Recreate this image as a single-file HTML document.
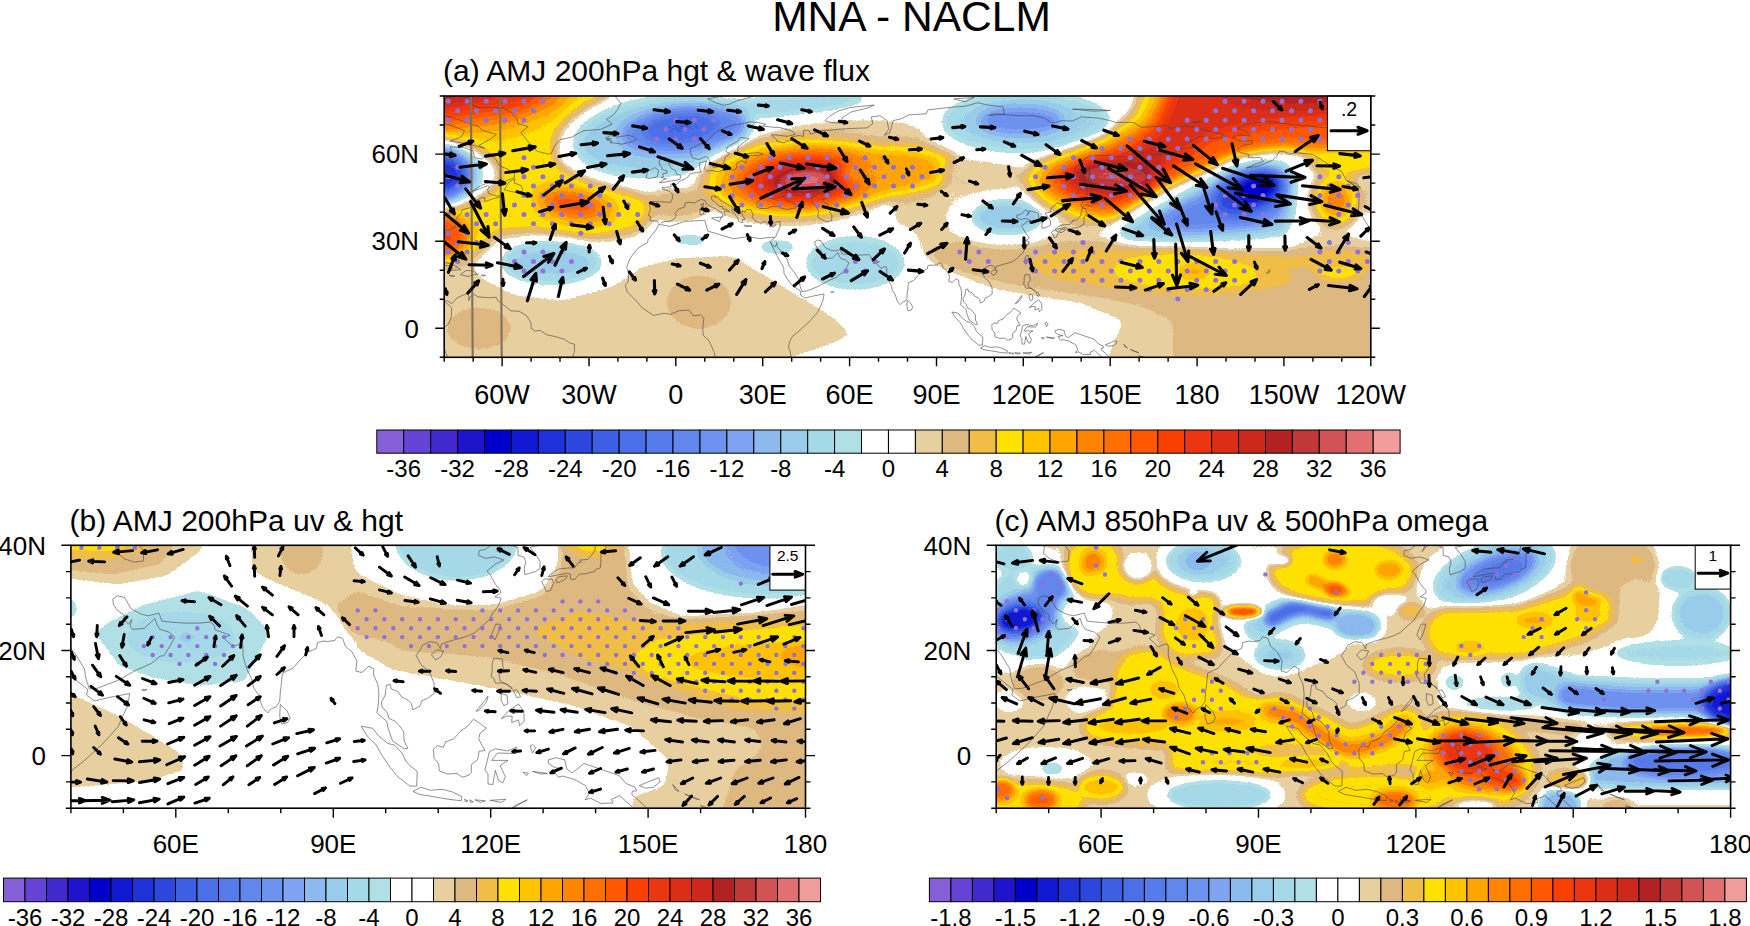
<!DOCTYPE html>
<html><head><meta charset="utf-8"><title>MNA - NACLM</title>
<style>
html,body{margin:0;padding:0;background:#fff}
svg{display:block}
text{font-family:"Liberation Sans", Arial, Helvetica, sans-serif;fill:#000}
.as{stroke:#000;fill:none;stroke-linecap:round;stroke-linejoin:round}
.ah{fill:#000;stroke:#000;stroke-width:1;stroke-linejoin:round}
</style></head><body>
<svg width="1750" height="926" viewBox="0 0 1750 926">
<defs>
<clipPath id="clipa"><rect x="444.2" y="96" width="926.6" height="261.3"/></clipPath>
<clipPath id="clipb"><rect x="70.9" y="545.3" width="734.6" height="262.9"/></clipPath>
<clipPath id="clipc"><rect x="996.2" y="545.3" width="734.4" height="262.9"/></clipPath>
<filter id="cmap" filterUnits="userSpaceOnUse" x="0" y="0" width="1750" height="926" color-interpolation-filters="sRGB"><feComponentTransfer><feFuncR type="discrete" tableValues="0.5216 0.3922 0.2588 0.1255 0.0000 0.0627 0.1216 0.1765 0.2392 0.2902 0.3373 0.3804 0.4314 0.4902 0.5490 0.6000 0.6471 0.6902 1.0000 1.0000 0.9098 0.8706 0.9412 1.0000 1.0000 1.0000 1.0000 1.0000 1.0000 0.9804 0.9255 0.8627 0.8039 0.6980 0.7569 0.8235 0.8863 0.9490"/><feFuncG type="discrete" tableValues="0.3765 0.2627 0.1608 0.0745 0.0000 0.0980 0.1961 0.2784 0.3725 0.4353 0.4824 0.5255 0.5725 0.6392 0.7255 0.8000 0.8510 0.8784 1.0000 1.0000 0.8118 0.7216 0.7451 0.8824 0.7647 0.6471 0.5216 0.4314 0.3451 0.2510 0.2118 0.1804 0.1569 0.1333 0.2157 0.3255 0.4392 0.6118"/><feFuncB type="discrete" tableValues="0.8471 0.8392 0.8039 0.8000 0.8039 0.8275 0.8510 0.8706 0.8902 0.9059 0.9176 0.9255 0.9373 0.9451 0.9333 0.9176 0.9059 0.9020 1.0000 1.0000 0.6275 0.5059 0.2706 0.0000 0.0000 0.0000 0.0000 0.0000 0.0000 0.0000 0.0627 0.0863 0.1098 0.1333 0.2275 0.3333 0.4471 0.6196"/></feComponentTransfer></filter>
<filter id="b2" x="-2" y="-2" width="5" height="5" color-interpolation-filters="sRGB"><feGaussianBlur stdDeviation="2"/></filter>
<filter id="b2_5" x="-2" y="-2" width="5" height="5" color-interpolation-filters="sRGB"><feGaussianBlur stdDeviation="2.5"/></filter>
<filter id="b3" x="-2" y="-2" width="5" height="5" color-interpolation-filters="sRGB"><feGaussianBlur stdDeviation="3"/></filter>
<filter id="b3_5" x="-2" y="-2" width="5" height="5" color-interpolation-filters="sRGB"><feGaussianBlur stdDeviation="3.5"/></filter>
<filter id="b4" x="-2" y="-2" width="5" height="5" color-interpolation-filters="sRGB"><feGaussianBlur stdDeviation="4"/></filter>
<filter id="b5" x="-2" y="-2" width="5" height="5" color-interpolation-filters="sRGB"><feGaussianBlur stdDeviation="5"/></filter>
<filter id="b6" x="-2" y="-2" width="5" height="5" color-interpolation-filters="sRGB"><feGaussianBlur stdDeviation="6"/></filter>
<filter id="b7" x="-2" y="-2" width="5" height="5" color-interpolation-filters="sRGB"><feGaussianBlur stdDeviation="7"/></filter>
<filter id="b8" x="-2" y="-2" width="5" height="5" color-interpolation-filters="sRGB"><feGaussianBlur stdDeviation="8"/></filter>
<filter id="b9" x="-2" y="-2" width="5" height="5" color-interpolation-filters="sRGB"><feGaussianBlur stdDeviation="9"/></filter>
<filter id="u3" filterUnits="userSpaceOnUse" x="0" y="0" width="1750" height="926" color-interpolation-filters="sRGB"><feGaussianBlur stdDeviation="3"/></filter>
<filter id="u3_5" filterUnits="userSpaceOnUse" x="0" y="0" width="1750" height="926" color-interpolation-filters="sRGB"><feGaussianBlur stdDeviation="3.5"/></filter>
<filter id="u4" filterUnits="userSpaceOnUse" x="0" y="0" width="1750" height="926" color-interpolation-filters="sRGB"><feGaussianBlur stdDeviation="4"/></filter>
<filter id="u5" filterUnits="userSpaceOnUse" x="0" y="0" width="1750" height="926" color-interpolation-filters="sRGB"><feGaussianBlur stdDeviation="5"/></filter>
</defs>
<g clip-path="url(#clipa)"><g filter="url(#cmap)">
<rect x="404.2" y="56" width="1006.6" height="341.3" fill="#808080"/>
<path d="M429.7 258.6 473.2 261.5 481 276.3 514.6 293.4 562.6 298.9 613.3 284.7 641.4 265.3 678.2 256.6 732.3 253.9 774.3 279.2 833.7 315.8 853.4 335.5 828.2 346.8 759.8 368.9 429.7 368.9Z" fill="#8a8a8a" filter="url(#b5)"/>
<ellipse cx="478.9" cy="328.3" rx="31.9" ry="20.3" fill="#909090" filter="url(#b5)"/>
<ellipse cx="699" cy="302.1" rx="31.9" ry="26.1" fill="#909090" filter="url(#b5)"/>
<path d="M1102.7 368.9 1111.1 343.9 1122.4 321.6 1077.2 304.5 992.6 290.5 936.5 265.3 920.5 255.7 917.6 238.3 907.5 228.1 895.9 226.7 890.1 217.9 890.1 200.5 907.5 191.8 965.4 191.8 1017.5 188.9 1066.8 212.1 1110.2 232.5 1139.1 244.1 1298.4 244.1 1318.7 229.6 1356.3 235.4 1385.3 241.2 1385.3 368.9Z" fill="#8a8a8a" filter="url(#b5)"/>
<path d="M930.7 247 965.4 238.3 1037.8 244.1 1110.2 242.6 1327.4 247 1385.3 247 1385.3 368.9 1172.4 368.9 1172.4 319.6 1139.1 305 1089.9 294.9 1023.3 286.2 965.4 273.1 936.5 261.5Z" fill="#909090" filter="url(#b5)"/>
<ellipse cx="675.8" cy="203.4" rx="34.7" ry="17.4" fill="#909090" filter="url(#b6)"/>
<path d="M855.4 232.5 867 203.4 887.2 202 895.9 229.6Z" fill="#808080" filter="url(#b4)"/>
<path d="M415.2 67 629.5 67 606.4 101.8 574.5 130.8 557.1 159.9 589 177.3 641.1 194.7 652.7 212.1 635.3 226.7 589 236.8 536.9 231 496.3 233.9 473.2 258.6 415.2 267.3Z" fill="#a1a1a1" filter="url(#b7)"/>
<path d="M415.2 67 589 67 554.2 107.6 507.9 125 415.2 133.7Z" fill="#b9b9b9" filter="url(#b9)"/>
<path d="M415.2 67 565.8 67 525.3 104.7 415.2 122.1Z" fill="#d0d0d0" filter="url(#b8)"/>
<ellipse cx="432.6" cy="78.6" rx="69.5" ry="23.2" fill="#e4e4e4" filter="url(#b7)"/>
<ellipse cx="577.4" cy="206.3" rx="69.5" ry="24.7" transform="rotate(10 577.4 206.3)" fill="#9e9e9e" filter="url(#b8)"/>
<ellipse cx="574.5" cy="204.9" rx="40.5" ry="16" transform="rotate(10 574.5 204.9)" fill="#b2b2b2" filter="url(#b7)"/>
<ellipse cx="573.1" cy="204.9" rx="23.2" ry="8.7" transform="rotate(10 573.1 204.9)" fill="#bfbfbf" filter="url(#b5)"/>
<ellipse cx="432.6" cy="235.4" rx="34.7" ry="21.8" fill="#c3c3c3" filter="url(#b7)"/>
<ellipse cx="421" cy="174.4" rx="79.6" ry="33.4" fill="#808080" filter="url(#b6)"/>
<ellipse cx="421" cy="174.4" rx="52.1" ry="27.6" fill="#282828" filter="url(#b9)"/>
<ellipse cx="661.4" cy="136.6" rx="107.1" ry="49.4" transform="rotate(-6 661.4 136.6)" fill="#808080" filter="url(#b7)"/>
<ellipse cx="780.1" cy="107.6" rx="104.2" ry="18.9" transform="rotate(-5 780.1 107.6)" fill="#808080" filter="url(#b6)"/>
<ellipse cx="661.4" cy="136.6" rx="86.9" ry="37.7" transform="rotate(-6 661.4 136.6)" fill="#686868" filter="url(#b7)"/>
<ellipse cx="777.2" cy="106.2" rx="89.8" ry="10.2" transform="rotate(-5 777.2 106.2)" fill="#6f6f6f" filter="url(#b5)"/>
<ellipse cx="684.5" cy="129.4" rx="63.7" ry="21.8" transform="rotate(-6 684.5 129.4)" fill="#4d4d4d" filter="url(#b7)"/>
<ellipse cx="681.6" cy="127.9" rx="37.6" ry="13.1" transform="rotate(-6 681.6 127.9)" fill="#3c3c3c" filter="url(#b6)"/>
<ellipse cx="849.6" cy="159.9" rx="110" ry="40.6" transform="rotate(-3 849.6 159.9)" fill="#8b8b8b" filter="url(#b5)"/>
<ellipse cx="797.5" cy="178.7" rx="98.5" ry="40.6" transform="rotate(-3 797.5 178.7)" fill="#9e9e9e" filter="url(#b8)"/>
<ellipse cx="895.9" cy="170" rx="69.5" ry="23.2" transform="rotate(-3 895.9 170)" fill="#9e9e9e" filter="url(#b7)"/>
<ellipse cx="849.6" cy="174.4" rx="104.2" ry="23.2" transform="rotate(-3 849.6 174.4)" fill="#a8a8a8" filter="url(#b8)"/>
<ellipse cx="800.4" cy="178.7" rx="78.2" ry="29" transform="rotate(-3 800.4 178.7)" fill="#b9b9b9" filter="url(#b9)"/>
<ellipse cx="803.3" cy="179.6" rx="55" ry="21.8" transform="rotate(-3 803.3 179.6)" fill="#d3d3d3" filter="url(#b8)"/>
<ellipse cx="804.7" cy="180.2" rx="34.7" ry="13.1" transform="rotate(-3 804.7 180.2)" fill="#e8e8e8" filter="url(#b6)"/>
<ellipse cx="806.2" cy="180.2" rx="20.3" ry="7.3" transform="rotate(-3 806.2 180.2)" fill="#f5f5f5" filter="url(#b4)"/>
<ellipse cx="884.3" cy="171.5" rx="46.3" ry="13.1" transform="rotate(-3 884.3 171.5)" fill="#aeaeae" filter="url(#b7)"/>
<ellipse cx="982.8" cy="174.4" rx="40.5" ry="23.2" fill="#8c8c8c" filter="url(#b5)"/>
<ellipse cx="1026.2" cy="125" rx="104.2" ry="37.7" fill="#808080" filter="url(#b7)"/>
<ellipse cx="1026.2" cy="122.1" rx="84" ry="29" fill="#6b6b6b" filter="url(#b7)"/>
<ellipse cx="1020.4" cy="120.7" rx="43.4" ry="14.5" fill="#545454" filter="url(#b6)"/>
<ellipse cx="1003.9" cy="217.9" rx="56.5" ry="27.6" fill="#808080" filter="url(#b5)"/>
<ellipse cx="1007.4" cy="217.1" rx="34.7" ry="16" fill="#686868" filter="url(#b5)"/>
<path d="M1020.4 180.2 1032 163.6 1065.9 151.2 1105.3 135.5 1133.4 112.8 1144.9 81.5 1399.8 81.5 1399.8 162.8 1310 159.9 1286.8 152.3 1236.7 159.3 1217.3 169.2 1160.6 191.8 1127.6 213.6 1105.3 223.7 1077.2 220 1040.7 203.4Z" fill="#a1a1a1" filter="url(#b6)"/>
<path d="M1040.7 180.2 1054.6 166.6 1105.3 148.3 1147.8 124.2 1170.1 81.5 1399.8 81.5 1399.8 145.4 1327.4 148.3 1286.8 145.4 1248 151.2 1217.3 161.3 1168.1 183.1 1133.4 204.9 1111.1 213.6 1088.5 210.7 1054.6 194.7Z" fill="#bfbfbf" filter="url(#b7)"/>
<path d="M1060.4 177.9 1082.7 163.6 1133.4 151.2 1160.9 127.9 1179.7 81.5 1399.8 81.5 1399.8 116.3 1327.4 119.2 1259.3 125 1208.6 136.6 1171 162.8 1147.8 186 1111.1 199.1 1077.2 191.8Z" fill="#d5d5d5" filter="url(#b7)"/>
<path d="M1063.9 178.7 1087 167.1 1130.5 158.4 1156.5 145.4 1162.3 162.8 1142 183.1 1110.2 193.3 1078.3 187.5Z" fill="#dddddd" filter="url(#b6)"/>
<ellipse cx="1116" cy="176.4" rx="34.7" ry="11" transform="rotate(3 1116 176.4)" fill="#ebebeb" filter="url(#b5)"/>
<ellipse cx="1298.4" cy="84.4" rx="81.1" ry="20.3" fill="#e4e4e4" filter="url(#b7)"/>
<path d="M1101.5 238.3 1139.1 206.3 1197.1 177.3 1231.8 158.4 1269.5 152.6 1304.2 155.5 1315.8 183.1 1310 226.7 1292.6 247 1197.1 251.3 1139.1 251.3Z" fill="#808080" filter="url(#b4)"/>
<path d="M1118.3 231.3 1138 220 1188.4 191.8 1231.2 169.2 1259.3 162.2 1284.8 163.6 1296.1 177.9 1293.2 214.5 1284.8 234.2 1231.2 238.3 1160.6 242.6 1127 239.7Z" fill="#686868" filter="url(#b5)"/>
<path d="M1146.7 222.9 1202.9 194.7 1236.7 175 1264.8 170.6 1284.8 180.2 1281.9 214.5 1259.3 225.8 1189 231.3Z" fill="#4d4d4d" filter="url(#b6)"/>
<ellipse cx="1249.2" cy="193.3" rx="37.6" ry="20.3" transform="rotate(-20 1249.2 193.3)" fill="#323232" filter="url(#b6)"/>
<ellipse cx="1256.4" cy="188.9" rx="20.3" ry="11.6" transform="rotate(-20 1256.4 188.9)" fill="#1b1b1b" filter="url(#b4)"/>
<ellipse cx="1347.6" cy="164.2" rx="37.6" ry="11.6" fill="#9e9e9e" filter="url(#b5)"/>
<ellipse cx="1370.8" cy="197.6" rx="8.7" ry="26.1" fill="#8b8b8b" filter="url(#b3)"/>
<ellipse cx="1336.1" cy="199.1" rx="24.6" ry="29" fill="#a1a1a1" filter="url(#b6)"/>
<ellipse cx="1336.1" cy="200.5" rx="13" ry="14.5" fill="#b2b2b2" filter="url(#b5)"/>
<ellipse cx="1372.2" cy="225.2" rx="10.1" ry="11.6" fill="#808080" filter="url(#b3)"/>
<ellipse cx="1338.9" cy="265.8" rx="26.1" ry="13.1" fill="#a3a3a3" filter="url(#b5)"/>
<ellipse cx="1162.3" cy="270.2" rx="133.2" ry="21.8" transform="rotate(3 1162.3 270.2)" fill="#979797" filter="url(#b6)"/>
<path d="M1240.5 261.5 1376.6 261.5" fill="none" stroke="#959595" stroke-width="14" stroke-linecap="round" stroke-linejoin="round" filter="url(#u4)"/>
<ellipse cx="1185.5" cy="271.7" rx="72.4" ry="17.4" transform="rotate(2 1185.5 271.7)" fill="#9f9f9f" filter="url(#b5)"/>
<ellipse cx="1194.2" cy="271.7" rx="14.5" ry="5.8" fill="#ababab" filter="url(#b4)"/>
<ellipse cx="551.3" cy="262.4" rx="49.2" ry="20.3" fill="#6a6a6a" filter="url(#b6)"/>
<ellipse cx="855.4" cy="262.9" rx="49.2" ry="26.1" fill="#6f6f6f" filter="url(#b6)"/>
<ellipse cx="777.2" cy="247" rx="17.4" ry="7.3" fill="#727272" filter="url(#b3)"/>
<ellipse cx="690.3" cy="239.7" rx="17.4" ry="5.2" fill="#727272" filter="url(#b3)"/>
</g></g>
<g clip-path="url(#clipa)"><path d="M658.8 224.3 656.2 229.6 648.1 239.7 647.5 242.6 638.5 247.8 633 254.2 629.5 259.5 626.6 267.3 628.7 273.1 628.1 281.8 625.2 285.6 627.5 292.3 632.4 296.9 637.3 302.1 642.6 308.2 653.6 315.5 664.3 313.2 670.3 314.3 679.3 310.6 688.9 310 693.2 315.8 700.5 314.9 703.9 318.1 703.1 325.4 702.8 331.2 703.4 335.5 708.3 339.9 711.5 346 714.4 352.9 715.8 360.2M658.8 224.3 670.1 226.4 684.5 221.4 704.8 220.3 707.7 231 719.3 234.5 733.8 238.8 748.2 236.5 759.8 238.6 769.4 237.4 774.9 237.4 770.2 241.5 773.7 249.3 778.6 258.9 783.6 267.3 784.1 273.7 790.2 283.3 800.9 291.7 800.4 294.9 804.7 298.1 814.8 295.7 824.1 294 822.9 300.7 817.7 312.3 809 321.9 798.9 331.2 792.3 336.4 789.6 341.9 788.5 347.1 790.2 351.5 791.1 357.3 792.8 360.2M658.8 223.5 657.3 221.1 650.1 220.8 650.4 216.2 648.3 215.6 650.4 209.2 649.2 203.1 652.7 201.4 664.8 202 670.6 202.3 672.4 198.5 672.4 194.4 669.5 191.2 662.8 189.2 662.2 187.5 671.2 186.9 670.6 184 676.1 184.6 680.5 180.8 685.1 179 688.3 176.7 690.3 173.5 696.7 172.6 700.8 171.8 699.9 168.6 699.3 163.1 703.4 162.2 706.5 160.7 705.7 164.2 704.2 168.6 707.1 171.5 712 170.3 717 171.8 723.6 170 729.4 169.2 733.2 170.3 736.7 168 736.9 163.1 741.3 160.7 745.9 162.5 746.5 158.7 743.9 156.4 749.7 155.5 756.9 155.5 763.3 154.4 758.4 152.6 748.2 153.5 742.2 154.4 737.5 151.7 738.1 146.8 746.8 140.1 749.1 138.4 740.1 137.5 737.5 141.3 727.4 146.8 725.7 151.2 729.7 153.8 725.1 157.8 723.6 162.8 721.9 165.4 717.3 166.8 713.2 167.4 712.3 165.1 708.3 158.4 706.5 156.4 703.4 157.6 699 159.6 692.1 157.6 690.6 152.6 690.3 148.6 696.1 145.9 700.5 143.9 706.5 141.3 712 136.6 717 131.4 723.6 128.5 730.9 125.6 739.6 124.2 750.3 121.8 756.9 122.4 765.6 124.2 762.7 125.9 771.4 127.1 780.1 127.6 793.1 131.4 795.1 134.3 787.3 136.4 775.7 134.9 771.4 134.9 776.6 139.6 776.9 141.3 784.4 143 785.9 141.3 791.7 140.4 791.7 136.9 798.9 135.5 803.3 136.4 803.8 130 809 130.5 810.5 134.3 820.6 130.8 832.2 130 840.9 129.1 849.6 128.5 867 127.9 872.8 123.6 871.3 116.9 880 115.7 887.2 120.7 888.7 129.4 884.3 135.2 890.1 132.3 893 120.7 901.7 118.6 908.9 114.9 926.3 113.7 927.8 109.9 950.9 107.3 965.4 106.2 977.9 102.7 985.7 104.7 1003.1 107 1004.5 114 988.6 115.5 994.4 113.7 1017.5 115.7 1033.5 115.7 1043.6 117.8 1050.8 122.1 1055.2 122.7 1061 120.7 1072.6 121 1081.2 116.9 1098.6 118.1 1110.2 120.7 1116 122.4 1133.4 122.4 1139.1 125.9 1142 127.4 1159.4 126.2 1168.1 125.3 1169.6 128.5 1185.5 125.9 1197.1 128.2 1205.7 130.3 1220.2 133.7 1226 136.6 1217.3 138.1 1208.6 138.4 1200 136.1 1194.2 140.1 1189.8 140.4 1192.7 143.9 1195.6 146.8 1182.6 148.8 1169.6 154.1 1156.5 154.4 1148.7 157 1147.5 160.5 1148.7 165.1 1144.9 168.6 1139.1 173.8 1134.8 174.7 1129.6 180.2 1126.7 175.8 1126.1 168 1127.6 162.8 1133.4 159.6 1139.1 155.5 1143.5 152.9 1139.1 151.2 1130.5 149.4 1124.7 155.5 1116 157 1107.3 155.2 1089.9 156.1 1082.7 160.5 1074 170 1076.9 172.1 1085 173.8 1082.7 180.2 1081.8 187.5 1076.9 192.7 1069.7 198.8 1061.3 204 1057.8 202.8 1054.3 205.5 1051.4 207.8 1050.5 212.1 1045 213.3 1047.6 216.5 1050.5 220.8 1050.5 224.9 1047.9 226.7 1042.1 228.4 1041.9 224.9 1042.7 221.1 1041.6 218.5 1038.4 217.6 1038.4 213.6 1035.8 212.4 1029.1 210.7 1026.8 215.6 1029.4 212.4 1026.2 209.8 1020.4 214.5 1017 215 1016.7 217.6 1020.4 219.4 1025.6 218.5 1030.6 220.3 1026.2 222.3 1021.3 226.4 1023 228.4 1025.9 233.6 1028.8 237.1 1028.8 238.6 1025.6 240.6 1029.1 241.5 1027.7 245.5 1024.8 249.3 1022.2 253.7 1018.1 257.1 1014.6 260.3 1011.2 262.1 1006.5 263.5 1003.9 264.1 1000.2 265.3 996.1 266.7 995.5 269.3 993.8 266.1 990 265.3 985.7 267.3 984.5 269.6 982.2 273.1 985.1 278.3 989.4 281.8 992.1 288.2 992.1 294 988.6 296.6 985.1 298.1 984.5 300.7 980.5 303 979.6 299.5 977.9 297.8 974.1 295.7 972.1 292.8 968.3 291.4 968 289.1 965.7 289.4 965.1 294.9 963.1 298.7 963.4 301.6 966.3 304.5 967.1 307.7 970.6 309.4 972.7 311.4 975.3 314.9 975.5 320.1 977.6 324.2 975.5 324.5 969.2 320.1 966.6 312.6 966 309.4 960.5 304.7 961.4 299.8 961.6 294 961.1 289.1 958.8 283.8 958.8 280.4 956.1 278.9 952.1 282.4 948.9 281.5 949.5 276 946.9 271.1 943.1 267.9 941.7 263.5 938.8 262.7 937.3 264.7 933.3 265.3 931.2 265 927.8 265.8 927.2 269 922.6 271.1 917.6 276 914.2 280.1 908.4 282.7 907.8 289.1 907.2 293.4 906.9 298.4 904.9 301.3 902.3 302.4 900.3 304.7 897.4 301.6 895.3 294.9 892.4 290.5 891.6 286.2 888.7 280.4 886.7 273.1 886.7 267.9 886.1 266.7 884.6 266.7 881.1 268.2 876.2 263.5 879.4 261.8 874.8 260 871.3 258.9 870.7 256.3 868.7 254.5 862.6 255.1 854.2 255.1 846.7 254.5 841.8 253.9 840.3 249.6 834.2 251 830.5 250.2 825 247.3 821.2 240.9 817.4 240 814.8 241.7 815.1 244.9 817.4 248.1 821.2 250.7 820.6 253.1 823.5 255.7 825.3 253.1 824.4 257.1 825.8 258.6 832.2 258 838 252.5 839.2 256 840.9 258.6 845.8 260 849 262.9 846.1 268.2 842.9 273.1 840.9 273.4 836 277.5 827.3 281.2 817.7 286.7 806.2 291.1 801.8 291.4 799.8 285 799.2 280.4 794.6 272.8 789.1 265.8 787.3 259.5 783.6 255.1 778.9 248.7 777.2 246.7 776.9 242.6 775.2 247 772.3 245.2 770.2 241.5M660.5 223.2 663.1 221.7 669.8 221.4 673.8 219.1 676.4 215.6 675 213.6 678.5 209.2 685.1 206.6 684.8 203.1 689.2 202.3 693.8 203.1 697.6 201.1 701.3 199.4 705.1 200.5 706.3 203.7 711.5 207.2 715.8 208.6 717.8 210.4 721.3 212.1 722.8 215 721.3 217.9 723.9 215.6 725.4 214.7 723.9 213 724.8 211 729.4 211.8 727.7 210.1 722.2 208.1 722.8 206.6 719.3 206.3 715.2 202 711.8 199.9 711.5 196.5 715.5 195.6 715.2 197.6 717.8 196.7 719.9 199.9 723.6 202 729.4 205.2 732.3 206.9 732 211 734.3 213.6 737.2 217.1 738.7 221.4 741 222.3 743 222.3 742.4 219.7 745.3 218.8 743.3 217.4 741.9 214.2 742.2 211 745.1 212.1 746.5 209.5 751.1 209.8 751.7 211.3 753.2 215 752 217.1 754.9 220.8 757.5 221.7 760.1 223.2 764.5 221.4 768.5 223.5 774.3 222.9 780.1 221.4 780.1 224.3 779.8 227.8 778.6 229.8 777.2 233 775.7 236.8 774.9 237.4M759.8 208.6 767.1 208.4 772.9 206.3 777.8 206.3 781.5 208.4 787.3 209.5 796 207.8 796 204.3 790.8 202 785.9 199.4 783.9 196.7 781.8 196.5 778.4 197.6 773.4 199.4 770 196.7 773.1 194.4 767.1 193 763.3 195.3 761.6 197 758.7 201.1 756.6 203.7 756.9 206.6 759.8 208.6M817.7 193.3 823.5 191.8 829.3 192.4 829.3 196.7 824.1 199.1 821.5 199.6 824.4 202.8 827.9 204 828.4 208.4 832.2 208.4 829.3 212.1 831.9 215 831.6 220.8 826.4 221.4 821.5 219.7 817.7 216.8 818.6 211.3 816.3 206.9 813.1 203.4 811.1 199.1 813.4 195.9 817.7 193.3M659.3 182.8 665.7 181.9 670.1 181.1 679.9 179.6 680.8 175.3 676.4 174.4 675.6 170.6 671.5 168.6 669.8 165.7 668.6 164.2 670.6 161 664.3 160.7 666.9 158.1 661.4 158.1 659.1 161.3 659.6 165.1 662 167.1 661.7 169.2 666.9 170.9 666.9 173.2 663.1 173.5 662.5 175 664 176.4 660.8 177.6 666.6 178.7 663.7 179.6 659.3 182.8M657.9 173.5 658.5 170 654.7 167.7 651.2 169.7 646.9 170.9 647.2 173.8 646 177.3 648.3 178.7 652.7 177.9 657.3 176.7 657.9 173.5M605.5 138.1 610.7 135.5 617.1 137.2 623.1 136.1 629.5 135.2 633.9 137.5 636.5 139.6 632.4 141.6 621.7 144.2 615 143 610.1 142.7 612.1 141.3 606.4 139.8 611.3 138.7 605.5 138.1M464.5 101.2 478.9 107.6 502.1 107.6 510.8 112 516.6 117.8 518 123.6 528.2 126.5 520.9 132.3 525.3 138.1 531.1 145.4 536.9 151.2 548.4 154.1 551.3 153.5 554.2 146.8 560 139.6 571.6 137.2 583.2 130.8 600.6 129.4 612.1 124.2 606.4 119.2 613.6 114.9 617.9 109.1 620.8 103.3 615 96 589 90.2M450 146.8 464.5 147.7 473.2 151.2 474.6 157.6 481.8 159 489.1 153.2 496.3 159.9 499.2 165.7 507.9 169.2 514.3 173.5 514.6 177.3 510.8 179 502.1 182.5 489.1 182.5 481.8 185.1 474.6 189.5 470.3 192.4 474.6 190.6 487.6 185.7 489.7 186.9 487.6 189.5 488.5 193.3 492 194.7 497.8 196.2 502.1 195.3 499.2 197 490.5 199.6 484.7 201.7 484.7 197.6 481.8 197.6 476.1 200.5 471.7 202.8 470.8 205.5 473.2 206.9 468.8 208.1 462.2 209.8 461 213.6 458.1 216.5 455.8 220.3 456.7 225.2 452.9 228.1 448.5 230.1 441.3 236.8M450 146.8 452.9 154.1 450 157.6 454.3 164.2 447.1 170 444.2 177.3 438.4 175.8M504.1 189.8 509.4 181.6 514.9 178.7 514.3 183.1 520.9 185.4 523 190.4 520.1 192.7 514.3 192.1 504.1 189.8M438.4 114.3 450 116.9 461.6 120.7 478.9 126.5 481.8 130.3 496.3 134.3 490.5 139 478.9 145.4 484.7 148.3 467.4 143.9 450 141 461.6 136.6 464.5 130.8 450 125 438.4 123.6M441.3 261.5 452.9 264.4 458.7 268.2 461 269.6 450.9 270.5 452.9 268.2 448.5 265.8 441.3 265M460.4 274.6 465.9 270.5 473.2 270.8 477.8 274.3 471.7 275.1 468.2 276.6 460.4 274.6M449.1 275.1 454.9 276 451.4 276.6 449.1 275.1M481.3 275.1 485.6 275.1 483.3 276.3 481.3 275.1M448.5 360.2 444.8 350 440.4 345.7 441.3 341.3 444.2 337 443.6 328.3 448.5 323.9 451.4 316.7 451.7 307.9 445.6 302.1 441.3 302.7M441.3 301.6 447.1 300.7 452 303.6 457.2 297.8 461.6 295.7 467.4 293.4 468.8 296.3 468.8 300.7 470.3 296.9 473.2 294 478.1 296.9 490.5 297.8 496.3 297.2 497.8 300.7 502.1 303.6 510.8 310.8 519.5 311.4 526.7 315.8 531.1 323 531.1 328.3 535.4 331.2 539.8 330.3 547 334.9 555.7 336.7 564.4 339.3 570.2 343.1 574.5 344.2 574.5 351.5 573.1 355.8 568.7 360.2M1231.8 137.8 1240.5 141 1252.1 140.7 1252.1 143.9 1241.9 145.4 1237.6 149.7 1240.5 152.6 1249.2 154.6 1248.6 157.8 1260.8 157.6 1263.7 161.3 1255 164.2 1246.3 168 1257.9 166 1272.3 160.5 1276.7 156.1 1279.6 151.2 1283.9 151.5 1289.7 154.4 1295.5 152.6 1312.9 154.4 1320.1 159 1325.9 162.8 1331.7 165.7 1337.5 169.5 1341.3 170.9 1346.2 180.2 1353.4 184.6 1357.2 187.7 1359.2 194.1 1358.9 203.4 1358.3 211 1363.6 218.5 1365.9 222 1369.4 228.1 1373.7 229.6M1231.8 137.8 1237.6 135.2 1243.4 134.9 1250.6 136.1 1244.8 130.8 1237.6 128.2 1246.3 124.2 1265.1 121.3 1278.1 122.7 1289.7 124.2 1310 126.2 1324.5 127.9 1338.9 125 1347.6 126.5 1356.3 124.5 1373.7 126.5M1347.1 180.8 1353.4 185.1 1360.7 187.7 1356.3 183.7 1347.1 180.8M1266.6 273.1 1269.5 269.6 1270 271.7 1268 273.4 1266.6 273.1M1052.9 230.7 1057.2 230.7 1058.1 233 1056.3 237.1 1054 237.7 1052.9 234.8 1051.4 232.5 1052.9 230.7M1054.9 229.6 1059.5 228.7 1065.3 227.5 1067.3 228.1 1067.3 230.7 1069.7 231 1072.3 228.1 1076 227.8 1077.8 227.2 1080.7 226.7 1081.2 225.5 1083.8 224.6 1084.1 220.8 1084.1 217.1 1087 213.6 1085.6 208.4 1082.1 208.6 1081.2 212.1 1080.7 215.6 1076.9 220 1072.6 220.3 1073.4 221.4 1071.7 221.7 1069.7 224.6 1066.8 224.6 1061 225.2 1058.1 226.9 1054.9 229.6M1059.2 231 1061 229.6 1065.6 229 1064.7 230.7 1061.5 232.5 1059.8 232.7 1059.2 231M1082.1 207.8 1081.2 204.9 1082.4 202.6 1085.9 196.5 1088.5 198.2 1096.6 199.9 1097.2 202.6 1090.8 206.3 1086.4 204.6 1084.1 206.3 1082.1 207.8M1087 194.7 1087.6 186 1089.3 177.3 1089.1 170.6 1090.8 175.8 1090.5 183.1 1094.3 186 1089.9 191.8 1091.4 193.3 1087 194.7M1026.2 255.7 1028.8 255.7 1027.7 260 1025.6 264.4 1023.9 261.5 1026.2 255.7M990.6 272.5 993.5 269.9 997.3 270.5 995.8 273.7 992.9 275.4 990.6 272.5M907.2 300.1 911 303.6 912.7 307.4 911.3 310 908.1 310.8 906.9 306.5 907.2 300.1M1025.1 274.6 1029.7 274.8 1030.3 280.4 1028 283.3 1028.5 287 1034.9 290.5 1035.2 291.7 1032 288.5 1030 288.2 1025.9 288.2 1025.1 285.6 1023.6 284.7 1024.2 281.2 1024.2 277.5 1025.1 274.6M1029.1 307.9 1033.5 303.3 1038.7 299.8 1041.6 303.6 1041.9 309.4 1039.3 311.7 1038.7 308.5 1034.9 310 1035.2 306.5 1032 306.5 1029.1 307.9M1037.8 292 1039.8 295.7 1037.8 296.3 1035.8 292.3 1037.8 292M1029.1 294 1032.3 294.9 1032.9 299.5 1030.6 300.7 1029.1 297.8 1029.1 294M1015.2 303.9 1021.9 295.5 1021 298.7 1017 303 1015.2 303.9M991.8 324.8 993.8 322.8 997.3 323.6 998.4 320.7 1003.1 319 1006.5 314.9 1010.3 312.3 1013.8 308.2 1016.7 310 1021 313.2 1017.5 315.8 1016.7 319 1020.1 325.4 1017 325.9 1016.1 330.6 1012.6 333.2 1012.6 337.6 1011.5 339 1007.7 340.2 1004.8 338.1 999.6 338.4 994.9 336.7 994.7 332.9 992.1 329.7 991.8 324.8M951.8 312 958.2 313.2 961.4 317.2 966.6 321.6 970.3 322.5 974.4 326.8 976.4 331.2 978.7 333.8 982.8 337 982.5 345.1 978.7 345.1 972.1 339.9 967.7 334.7 963.1 327.7 960.2 322.5 955.3 317.5 951.8 312M980.5 348 984.8 345.7 990 347.4 996.7 346.8 1002.2 348.3 1007.4 350.9 1007.1 353.2 1000.2 352.4 991.5 350.9 984.2 349.8 980.5 348M1008.8 352.4 1010.9 353.2 1009.4 353.8 1008.8 352.4M1011.7 352.7 1013.8 353.8 1012.3 354.1 1011.7 352.7M1014.6 352.7 1020.4 353.2 1017.5 354.1 1014.6 352.7M1023 352.9 1031.7 352.4 1029.1 354.1 1023 352.9M1033.7 358.2 1043.6 352.7 1037.8 355.3 1033.7 358.2M1022.7 325.9 1025.9 324.5 1032.6 325.7 1037.8 323.6 1035.8 327.1 1027.1 326.8 1023.9 330.9 1027.7 330.9 1032.9 330.9 1028.5 333.8 1031.4 339.9 1030 343.4 1027.7 341.9 1025.9 336.4 1024.5 344.2 1021.9 343.9 1021.9 338.4 1020.1 336.1 1022.7 325.9M1045 323 1046.5 326.8 1048.2 323.9 1046.2 322.2 1045 323M1041.3 337.6 1044.2 337.8 1043 339.3 1041.3 337.6M1046.5 337 1054.6 338.1 1050.8 338.4 1046.5 337M1055.2 330.6 1059.5 329.4 1064.2 330.6 1065.3 335.5 1068.2 337.8 1074.9 332.6 1084.1 335.8 1094.3 339.3 1098 343.7 1103 345.7 1103.8 347.7 1101.5 348 1101.2 349.8 1105.3 353.2 1110.2 357.9 1112.5 359.3M1103 357.9 1098.6 354.1 1094.6 350.3 1089.9 352.4 1090.8 354.4 1084.1 354.7 1078.3 351.8 1075.4 352.7 1077.8 349.2 1075.7 344.8 1069.4 341.3 1063 339.6 1060.7 340.2 1058.1 336.7 1062.7 335.5 1058.9 334.9 1055.2 332.6 1055.2 330.6M1105.3 344.8 1110.2 342.8 1116 340.5 1116.9 342.8 1113.1 345.7 1108.7 346.3 1105.3 344.8M1123.8 344.2 1127.3 348 1125.3 347.1 1123.8 344.2M1130.5 349.5 1138.6 352.7 1134.8 351.5 1130.5 349.5M1139.1 355.8 1143.5 357.3 1140.6 357 1139.1 355.8M825 120.7 829.3 116.3 838 111.1 849.6 107.6 874.2 105 867 108.2 851 112 842.3 117.8 840.9 123 832.2 122.7 825 120.7M707.7 98.9 722.2 96 739.6 95.1 754 96 736.7 100.9 729.4 104.1 723.6 105.3 716.4 103 707.7 98.9M1072.6 109.1 1095.7 109.6 1110.2 110.5 1092.8 111.1 1072.6 109.1M1192.7 122.1 1201.4 121.3 1197.1 122.7 1192.7 122.1M953.8 98.9 974.1 97.5 965.4 101.8 953.8 98.9M711.8 217.9 721 217.1 719.6 221.7 711.8 218.5 711.8 217.9M699.6 209.2 703.9 209.2 703.6 214.5 700.2 215 699.6 209.2M700.8 204.6 703.4 203.4 703.1 207.8 700.8 204.6M743.9 225.2 752 226.1 745.3 226.7 743.9 225.2M769.4 226.7 776 224.6 774 226.9 769.4 226.7M830.8 292 833.7 291.7 832.2 292.6 830.8 292" fill="none" stroke="#444" stroke-width="0.6"/></g>
<g clip-path="url(#clipa)"><path d="M448.2 101.3h0M467.1 101.3h0M486.1 101.3h0M505 101.3h0M524 101.3h0M542.9 101.3h0M1225.1 101.3h0M1244.1 101.3h0M1263 101.3h0M1282 101.3h0M1300.9 101.3h0M1319.9 101.3h0M457.7 110.7h0M476.6 110.7h0M495.6 110.7h0M514.5 110.7h0M533.5 110.7h0M1215.7 110.7h0M1234.6 110.7h0M1253.6 110.7h0M1272.5 110.7h0M1291.5 110.7h0M1310.4 110.7h0M1329.4 110.7h0M448.2 120.2h0M467.1 120.2h0M486.1 120.2h0M505 120.2h0M524 120.2h0M675.6 120.2h0M694.5 120.2h0M713.5 120.2h0M1187.2 120.2h0M1206.2 120.2h0M1225.1 120.2h0M1244.1 120.2h0M1263 120.2h0M1282 120.2h0M1300.9 120.2h0M1319.9 120.2h0M666.1 129.6h0M685.1 129.6h0M704 129.6h0M1158.8 129.6h0M1177.8 129.6h0M1196.7 129.6h0M1215.7 129.6h0M1234.6 129.6h0M1253.6 129.6h0M1272.5 129.6h0M1291.5 129.6h0M1310.4 129.6h0M1329.4 129.6h0M656.6 139h0M675.6 139h0M694.5 139h0M1130.4 139h0M1149.3 139h0M1168.3 139h0M1187.2 139h0M1206.2 139h0M1225.1 139h0M1244.1 139h0M1263 139h0M1282 139h0M1300.9 139h0M1319.9 139h0M1102 148.4h0M1120.9 148.4h0M1139.9 148.4h0M1158.8 148.4h0M1177.8 148.4h0M1196.7 148.4h0M524 157.8h0M770.3 157.8h0M789.3 157.8h0M808.2 157.8h0M827.2 157.8h0M846.1 157.8h0M865.1 157.8h0M884 157.8h0M1073.5 157.8h0M1092.5 157.8h0M1111.4 157.8h0M1130.4 157.8h0M1149.3 157.8h0M1168.3 157.8h0M457.7 167.3h0M533.5 167.3h0M741.9 167.3h0M760.9 167.3h0M779.8 167.3h0M798.8 167.3h0M817.7 167.3h0M836.7 167.3h0M855.6 167.3h0M874.6 167.3h0M893.5 167.3h0M912.5 167.3h0M1045.1 167.3h0M1064.1 167.3h0M1083 167.3h0M1102 167.3h0M1120.9 167.3h0M1139.9 167.3h0M1158.8 167.3h0M448.2 176.7h0M524 176.7h0M542.9 176.7h0M561.9 176.7h0M732.4 176.7h0M751.4 176.7h0M770.3 176.7h0M789.3 176.7h0M808.2 176.7h0M827.2 176.7h0M846.1 176.7h0M865.1 176.7h0M884 176.7h0M903 176.7h0M921.9 176.7h0M1035.6 176.7h0M1054.6 176.7h0M1073.5 176.7h0M1092.5 176.7h0M1111.4 176.7h0M1130.4 176.7h0M1149.3 176.7h0M1319.9 176.7h0M1338.8 176.7h0M457.7 186.1h0M533.5 186.1h0M552.4 186.1h0M571.4 186.1h0M590.3 186.1h0M723 186.1h0M741.9 186.1h0M760.9 186.1h0M779.8 186.1h0M798.8 186.1h0M817.7 186.1h0M836.7 186.1h0M855.6 186.1h0M874.6 186.1h0M893.5 186.1h0M912.5 186.1h0M1045.1 186.1h0M1064.1 186.1h0M1083 186.1h0M1102 186.1h0M1120.9 186.1h0M1139.9 186.1h0M1253.6 186.1h0M1329.4 186.1h0M1348.3 186.1h0M524 195.5h0M542.9 195.5h0M561.9 195.5h0M580.8 195.5h0M599.8 195.5h0M732.4 195.5h0M751.4 195.5h0M770.3 195.5h0M789.3 195.5h0M808.2 195.5h0M827.2 195.5h0M846.1 195.5h0M865.1 195.5h0M1073.5 195.5h0M1092.5 195.5h0M1111.4 195.5h0M1130.4 195.5h0M1225.1 195.5h0M1244.1 195.5h0M1263 195.5h0M1319.9 195.5h0M1338.8 195.5h0M1357.8 195.5h0M514.5 204.9h0M533.5 204.9h0M552.4 204.9h0M571.4 204.9h0M590.3 204.9h0M609.3 204.9h0M628.2 204.9h0M741.9 204.9h0M760.9 204.9h0M779.8 204.9h0M798.8 204.9h0M817.7 204.9h0M836.7 204.9h0M1102 204.9h0M1215.7 204.9h0M1234.6 204.9h0M1253.6 204.9h0M1329.4 204.9h0M1348.3 204.9h0M448.2 214.4h0M467.1 214.4h0M486.1 214.4h0M524 214.4h0M542.9 214.4h0M561.9 214.4h0M580.8 214.4h0M599.8 214.4h0M618.7 214.4h0M637.7 214.4h0M1225.1 214.4h0M1244.1 214.4h0M1263 214.4h0M1338.8 214.4h0M457.7 223.8h0M476.6 223.8h0M495.6 223.8h0M533.5 223.8h0M552.4 223.8h0M571.4 223.8h0M590.3 223.8h0M609.3 223.8h0M448.2 233.2h0M467.1 233.2h0M486.1 233.2h0M580.8 233.2h0M457.7 242.6h0M476.6 242.6h0M1083 242.6h0M1329.4 242.6h0M1348.3 242.6h0M448.2 252h0M467.1 252h0M524 252h0M542.9 252h0M561.9 252h0M959.8 252h0M978.8 252h0M1035.6 252h0M1054.6 252h0M1073.5 252h0M1092.5 252h0M1319.9 252h0M1338.8 252h0M1357.8 252h0M457.7 261.5h0M514.5 261.5h0M533.5 261.5h0M552.4 261.5h0M571.4 261.5h0M855.6 261.5h0M874.6 261.5h0M969.3 261.5h0M988.3 261.5h0M1026.2 261.5h0M1045.1 261.5h0M1064.1 261.5h0M1083 261.5h0M1102 261.5h0M1120.9 261.5h0M1139.9 261.5h0M1158.8 261.5h0M1177.8 261.5h0M1196.7 261.5h0M1215.7 261.5h0M1234.6 261.5h0M1329.4 261.5h0M1348.3 261.5h0M1367.3 261.5h0M524 270.9h0M542.9 270.9h0M561.9 270.9h0M846.1 270.9h0M865.1 270.9h0M1035.6 270.9h0M1054.6 270.9h0M1073.5 270.9h0M1092.5 270.9h0M1111.4 270.9h0M1130.4 270.9h0M1149.3 270.9h0M1168.3 270.9h0M1187.2 270.9h0M1206.2 270.9h0M1225.1 270.9h0M1244.1 270.9h0M1319.9 270.9h0M1338.8 270.9h0M1357.8 270.9h0M1083 280.3h0M1102 280.3h0M1120.9 280.3h0M1139.9 280.3h0M1158.8 280.3h0M1177.8 280.3h0M1196.7 280.3h0M1215.7 280.3h0M1234.6 280.3h0M1149.3 289.7h0M1168.3 289.7h0M1187.2 289.7h0M1206.2 289.7h0M1177.8 299.1h0" stroke="#9070db" stroke-width="5" stroke-linecap="round" fill="none"/></g>
<path d="M470.9 96L472.7 357.3M500.1 96L501.7 357.3" stroke="#80705c" stroke-width="2.1" fill="none"/>
<g clip-path="url(#clipa)"><path class="as" stroke-width="3.1" d="M459.2 146.2L472.8 141.2M468.9 141.1L472.8 141.2L469.8 143.7M437.1 153L455 155.4M450.7 153.1L455 155.4L450.2 156.5M460 167.2L486.3 164M479.4 162.2L486.3 164L480 167.3M435.7 172.9L469.6 181.8M461.9 176.3L469.6 181.8L460.2 182.8M485.6 156.1L504.8 153.3M499.7 152.1L504.8 153.3L500.3 155.9M512.7 150.7L535.2 146.9M529.1 145.7L535.2 146.9L529.9 150M559 156.4L575.7 153.3M571.2 152.5L575.7 153.3L571.8 155.7M581.1 144.7L597.5 143M593.2 141.9L597.5 143L593.5 145M603.9 132.6L617.9 133.6M614.4 132L617.9 133.6L614.2 134.7M632.7 125.9L646.6 128.3M643.4 126.4L646.6 128.3L642.9 129.1M654.1 109.8L669.4 111.7M665.7 109.7L669.4 111.7L665.4 112.7M607.5 155.8L629.5 153.6M623.8 152L629.5 153.6L624.2 156.3M639.5 146.9L654.5 151.9M651.2 149.1L654.5 151.9L650.2 152M587.5 167.5L606 164M601 163.1L606 164L601.7 166.7M632.4 172.1L647.4 170.1M643.4 169.2L647.4 170.1L643.8 172M536.9 167.2L554.7 164M549.9 163.1L554.7 164L550.5 166.5M505.8 172.5L527.6 169.7M521.9 168.3L527.6 169.7L522.4 172.5M485.3 181.5L504.8 183.2M500.1 180.9L504.8 183.2L499.8 184.7M565.1 182.9L584.6 170.7M578.5 171.9L584.6 170.7L580.9 175.6M613.2 189.2L623.6 175.8M619.6 178.2L623.6 175.8L622.2 180.2M544 194.9L562.3 180.6M556.3 182.5L562.3 180.6L559.1 186M517 191.8L531.2 195.7M528 193.4L531.2 195.7L527.2 196.1M588.9 199.2L604.6 187.2M599.5 188.7L604.6 187.2L601.8 191.7M560.8 206.7L588.2 202M580.9 200.6L588.2 202L581.8 205.9M539.5 211.7L552.6 207.7M548.9 207.5L552.6 207.7L549.7 210M465.7 188.9L480.6 208.1M478.7 201.8L480.6 208.1L475 204.7M445 198.2L454.3 213.8M453.4 209L454.3 213.8L450.4 210.8M502.4 193.9L504.8 215.3M506.3 209.6L504.8 215.3L502.2 210.1M603.2 207.4L605.3 223.8M606.4 219.5L605.3 223.8L603.2 219.9M623.8 201L627.8 208.6M627.5 206L627.8 208.6L625.9 206.9M650.6 202.9L658.8 206M656.8 204.3L658.8 206L656.2 206M673.7 184.3L678 191.8M677.6 189.2L678 191.8L676 190.1M676.8 121.6L690 122.6M686.7 121.1L690 122.6L686.6 123.7M669.3 139L682.1 148.3M679.8 144.7L682.1 148.3L678 147.2M658 156.8L692.8 169M685.2 162.5L692.8 169L682.9 169.3M698.2 110.2L712.5 111.7M709 109.9L712.5 111.7L708.7 112.7M727.7 110.2L740.5 111.7M737.4 110.1L740.5 111.7L737.2 112.5M758.4 105.1L768.3 106M765.9 104.8L768.3 106L765.7 106.7M801.8 109.8L811.4 111.7M809.1 110.3L811.4 111.7L808.8 112.1M777.6 119.8L791.8 123.6M788.6 121.3L791.8 123.6L787.9 124M748.4 125.9L763.3 129.3M759.9 127L763.3 129.3L759.2 129.9M839.3 121.2L846.7 122.6M844.5 121.3L846.7 122.6L844.2 123.1M722.4 130.8L731 134.5M729.1 132.6L731 134.5L728.4 134.4M700.6 138.7L709.2 148.7M708 145.4L709.2 148.7L706.1 147M814.6 129.8L827.5 135.9M824.8 133.1L827.5 135.9L823.6 135.6M791.8 138.7L807.1 148.3M804.2 144.4L807.1 148.3L802.3 147.4M889.5 137.3L897.7 139.3M895.6 137.8L897.7 139.3L895.2 139.6M859.5 141.2L869.8 146.2M867.7 143.9L869.8 146.2L866.7 145.9M766.9 143.6L774 155.4M773.4 151.7L774 155.4L771.1 153.1M838.9 148.3L847 161.5M846.2 157.4L847 161.5L843.7 159M735.3 153.3L747.7 156.8M744.9 154.7L747.7 156.8L744.2 157.1M884.5 156.8L888 163M887.6 160.4L888 163L886 161.3M710.2 163.5L729.6 168.2M725.1 165.2L729.6 168.2L724.2 168.9M780.4 163L804 168.2M798.5 164.6L804 168.2L797.5 169.2M806.8 164L836 168.2M829.1 164.3L836 168.2L828.2 170M754.1 174.7L772.6 167.5M767.2 167.5L772.6 167.5L768.6 171.1M860.3 170.1L869.2 183.9M868.3 179.6L869.2 183.9L865.6 181.3M730.1 184.3L752.7 180.6M746.6 179.4L752.7 180.6L747.3 183.8M760.9 198.2L804.7 178.2M791.7 179L804.7 178.2L795.6 187.5M792.8 188.9L835.3 186.8M824.4 183.2L835.3 186.8L824.8 191.4M834.6 181.1L851 194.6M848.2 189.6L851 194.6L845.5 192.8M704.9 186.8L720.2 189.2M716.6 187.1L720.2 189.2L716.1 190.1M729.6 196.7L739.1 212.4M738.2 207.5L739.1 212.4L735.2 209.4M823.2 206.7L848.4 213.1M842.7 209.1L848.4 213.1L841.4 214M796.8 217.4L802.3 202.4M799.4 205.7L802.3 202.4L802.3 206.7M861.7 202.4L867.4 217.1M867.4 212.9L867.4 217.1L864.5 214M890.2 213.1L896.9 206.7M894.5 207.7L896.9 206.7L895.8 209.1M702.1 208.9L708.2 210.6M706.1 209L708.2 210.6L705.6 210.8M906.4 169L908.8 174.9M908.8 172.3L908.8 174.9L907.1 173M909.3 149.7L921.4 149M918.3 148L921.4 149L918.4 150.4M931.1 139L942.8 137.6M939.7 136.8L942.8 137.6L939.9 139.1M952.7 127.6L964.8 126.5M961.7 125.6L964.8 126.5L961.9 127.9M980.5 126.9L994.8 127.6M991.2 126.1L994.8 127.6L991.1 128.8M1052.5 125.9L1067.9 129.1M1064.3 126.8L1067.9 129.1L1063.7 129.8M1024.7 131.2L1038 134.5M1034.9 132.4L1038 134.5L1034.3 134.9M1103.8 130.2L1118.3 135.5M1115.2 132.7L1118.3 135.5L1114.2 135.5M1004.3 141.9L1014.7 146.2M1012.5 144.1L1014.7 146.2L1011.7 146.1M976.7 149.7L984.8 149M982.3 148.3L984.8 149L982.5 150.1M1081.7 140.5L1096.4 147.9M1093.4 144.6L1096.4 147.9L1092 147.4M1046.1 144.7L1059.9 154.4M1057.4 150.6L1059.9 154.4L1055.5 153.3M954.2 162.5L963.4 157.8M960.6 158.1L963.4 157.8L961.5 159.9M1021.8 155.4L1041.1 165.8M1037.2 161.3L1041.1 165.8L1035.2 165.1M1079.8 160.1L1084.6 172.5M1084.6 168.9L1084.6 172.5L1082.2 169.8M1095.2 161.8L1126.6 169.7M1119.4 164.7L1126.6 169.7L1117.9 170.7M1008.6 166.8L1010 176.1M1010.6 173.5L1010 176.1L1008.7 173.8M930.6 172.5L943.5 170.1M940 169.5L943.5 170.1L940.5 171.9M1047.5 177.8L1073.2 175.8M1066.5 173.8L1073.2 175.8L1066.9 178.8M969.5 181.1L977.7 183.9M975.7 182.2L977.7 183.9L975.1 184M1080.7 184.3L1126.6 191M1115.7 184.9L1126.6 191L1114.4 193.8M1028 189.6L1048.9 186.1M1043.3 184.9L1048.9 186.1L1044 189M941.3 191.5L947.3 195.7M945.9 193.6L947.3 195.7L944.8 195.1M1105.2 198.6L1132.6 221.7M1127.9 213.2L1132.6 221.7L1123.4 218.5M1062.5 200.6L1101.7 197.5M1091.5 194.5L1101.7 197.5L1092.1 202M1013.3 203.9L1020.4 193.5M1017.6 195.4L1020.4 193.5L1019.6 196.8M917.8 204.3L926.8 205.3M924.5 204.1L926.8 205.3L924.3 206M982.9 201L992.3 208.1M990.7 205.4L992.3 208.1L989.3 207.3M1051.1 216L1069.6 204.3M1063.8 205.5L1069.6 204.3L1066 209M962 214.8L970.5 216.3M968.3 215L970.5 216.3L968 216.8M1002.3 221L1016.9 221.4M1013.2 219.9L1016.9 221.4L1013.2 222.7M1031.1 222.4L1046.1 218.1M1041.9 217.8L1046.1 218.1L1042.7 220.6M1144.3 141.3L1164.8 146.5M1160.1 143.2L1164.8 146.5L1159.1 147.2M1159.9 150.3L1192.9 159.4M1185.5 153.9L1192.9 159.4L1183.7 160.3M1193.4 145.4L1217.2 164.6M1213 157.5L1217.2 164.6L1209.3 162.1M1232 143.8L1236.9 165.9M1237.8 159.9L1236.9 165.9L1233.5 160.8M1127 145.9L1170.7 182.7M1163.3 169.2L1170.7 182.7L1156.2 177.6M1108.6 168.3L1156.2 196.7M1146.9 184.9L1156.2 196.7L1141.4 194.1M1130.2 184.8L1164.3 224.2M1159.5 211L1164.3 224.2L1151.9 217.6M1156.2 177.3L1179.7 209.1M1176.8 198.8L1179.7 209.1L1170.7 203.4M1178.8 203.7L1187.3 225.3M1187.2 219.1L1187.3 225.3L1183 220.7M1173.4 165.9L1206.9 187.5M1200.6 178.8L1206.9 187.5L1196.4 185.3M1201 179.4L1211.8 214M1212.4 204.2L1211.8 214L1205.7 206.3M1195.6 163.8L1242.5 189.7M1233.2 178.6L1242.5 189.7L1228.2 187.7M1217.7 186.4L1251.2 211.3M1245.2 201.8L1251.2 211.3L1240.3 208.3M1216.1 211.8L1222.6 230.2M1222.7 224.9L1222.6 230.2L1219.2 226.2M1151.8 218.3L1171.8 235M1168.4 228.9L1171.8 235L1165.2 232.7M1123.2 228.6L1142.7 235.6M1138.4 231.9L1142.7 235.6L1137.1 235.7M1273.2 101.3L1281.8 109.8M1280.5 106.8L1281.8 109.8L1278.8 108.5M1320.3 102.3L1322.4 108.8M1322.6 106.2L1322.4 108.8L1320.8 106.8M1295.3 151.6L1318.1 135.5M1310.8 137.3L1318.1 135.5L1314 141.7M1286.1 171.1L1312.4 160.4M1304.8 160.6L1312.4 160.4L1306.8 165.7M1339.8 153.6L1360.2 155.9M1355.3 153.3L1360.2 155.9L1354.8 157.3M1317 165.8L1339.5 166.1M1333.9 163.9L1339.5 166.1L1333.8 168.2M1363.8 177.8L1380.9 175.4M1376.3 174.3L1380.9 175.4L1376.8 177.6M1222.6 168.3L1274 185.4M1262.7 176.1L1274 185.4L1259.4 186M1250.4 175.4L1305 177.5M1291.5 171.7L1305 177.5L1291.1 182.3M1302.5 185.8L1340.2 189.6M1331.1 185L1340.2 189.6L1330.3 192.3M1343.1 186.4L1357.3 189.2M1354 187.1L1357.3 189.2L1353.5 189.9M1235.5 193.2L1290.3 203.9M1277.6 195.9L1290.3 203.9L1275.5 206.5M1276.8 194.9L1321.7 201.7M1311 195.7L1321.7 201.7L1309.7 204.4M1324.6 205.3L1361.6 214.6M1353.2 208.7L1361.6 214.6L1351.4 215.8M1365.2 206.7L1378 213.2M1375.4 210.3L1378 213.2L1374.2 212.8M470.7 201.7L489.1 237.2M487.9 226.5L489.1 237.2L481 230M444.3 213.1L468.4 233M464.2 225.7L468.4 233L460.4 230.3M458.4 241.8L488.3 245.3M481.1 241.5L488.3 245.3L480.4 247.3M443.1 241L465.8 259.1M461.8 252.3L465.8 259.1L458.3 256.7M448.4 272.4L455.3 254.8M451.9 258.6L455.3 254.8L455.3 259.9M494.4 237.2L510.2 248.7M507.4 244.2L510.2 248.7L505.1 247.3M469.1 264.8L492.1 265.2M486.4 262.9L492.1 265.2L486.3 267.3M497.5 262.8L521.3 267.4M515.7 263.9L521.3 267.4L514.8 268.5M526.6 242.8L535.8 242.8M533.4 241.9L535.8 242.8L533.4 243.8M550.1 239.5L555.3 224.4M552.6 227.7L555.3 224.4L555.5 228.7M571.6 224.9L592.6 227.5M587.5 224.8L592.6 227.5L587 228.9M637.1 221.8L642.7 231M642.2 228.2L642.7 231L640.4 229.3M616.7 231.5L620.2 243.8M620.5 240.3L620.2 243.8L618.1 241M523.6 276.6L553.8 253.6M543.9 256.5L553.8 253.6L548.4 262.3M555 265.2L566.1 242.5M561.1 247.2L566.1 242.5L565.5 249.3M589.1 252L589.5 245.3M588.4 247.7L589.5 245.3L590.3 247.8M609.5 256.3L612.5 262.8M612.3 260.2L612.5 262.8L610.6 261M674.3 234.9L679.2 240.7M678.4 238.2L679.2 240.7L677 239.4M577.7 272.4L586.4 268.3M583.8 268.5L586.4 268.3L584.6 270.2M527.4 300.8L535.8 273.5M531.1 279.6L535.8 273.5L536.4 281.2M558.4 296.5L562.7 277.5M559.8 281.9L562.7 277.5L563.4 282.7M602.6 278.1L605.3 285.5M605.3 282.9L605.3 285.5L603.6 283.5M629.4 272L635.5 280.1M634.8 277.5L635.5 280.1L633.2 278.7M654.4 280.6L654.7 293.9M655.9 290.5L654.7 293.9L653.3 290.6M467.9 293.1L478.6 280.9M474.8 282.9L478.6 280.9L477.1 285M502.9 279.3L503.2 285.5M504 283L503.2 285.5L502.1 283.1M445.4 288.8L446.9 294.4M447.1 291.8L446.9 294.4L445.4 292.3M672.3 264L680 265.8M677.8 264.4L680 265.8L677.4 266.2M677.4 284.2L689.6 290.1M687.1 287.4L689.6 290.1L686 289.8M770.4 216.5L770.8 224.4M771.6 222L770.8 224.4L769.7 222.1M722.1 229L732.1 223.8M729.1 224.2L732.1 223.8L730.1 226.1M702.2 239.2L707.6 235.2M705.1 235.9L707.6 235.2L706.2 237.4M747.4 234.6L750 240.7M750 238.1L750 240.7L748.2 238.8M789.3 233.6L795.7 230M793.2 230.4L795.7 230L794.1 232M822.6 228.4L834.1 235.6M831.9 232.7L834.1 235.6L830.5 234.9M853.7 226.9L861.4 237.2M860.4 233.8L861.4 237.2L858.5 235.3M879.8 235.2L892.7 228.7M888.8 229.1L892.7 228.7L890 231.6M782.3 253L787.8 255.6M786 253.7L787.8 255.6L785.2 255.4M817.2 250.2L825.2 258.2M824 255.4L825.2 258.2L822.4 256.9M841.4 248.4L858.9 259.7M855.6 255.2L858.9 259.7L853.4 258.5M873.2 259.7L884.4 249M880.5 250.6L884.4 249L882.6 252.8M904.6 253L910.5 243.3M908.1 245.2L910.5 243.3L909.9 246.3M700.4 263.2L710.2 267.1M708.1 265.2L710.2 267.1L707.3 267.1M729.5 270.1L738.2 260.2M735.1 261.8L738.2 260.2L737 263.5M762 268.6L764.8 261.7M763 263.6L764.8 261.7L764.7 264.3M822.6 279L834.4 273.2M830.9 273.5L834.4 273.2L832 275.8M851.3 280.6L867.5 270.9M862.5 271.8L867.5 270.9L864.4 274.9M880.1 271.4L892.4 280.1M890.1 276.7L892.4 280.1L888.4 279.1M706.8 290.1L718.8 284.2M715.2 284.6L718.8 284.2L716.3 286.9M736.7 294.4L745.9 279.6M742.2 282.5L745.9 279.6L745 284.2M765.4 291.9L775.5 282.4M772 283.8L775.5 282.4L773.9 285.8M794.2 285.8L804.6 277M801.2 278.2L804.6 277L802.9 280.3M908.4 270.1L922.7 271.4M919.2 269.7L922.7 271.4L919 272.4M1088.8 215.7L1104.7 226M1101.7 221.8L1104.7 226L1099.7 224.9M910.4 229.5L920.7 223.4M917.5 223.9L920.7 223.4L918.7 225.9M941.7 229.5L947.2 223.4M944.9 224.5L947.2 223.4L946.3 225.8M985.9 234.6L990.2 229M987.9 230.4L990.2 229L989.4 231.5M927.6 253.6L946.8 243.3M940.9 244L946.8 243.3L942.9 247.7M965.6 259.1L967.2 237.6M964.7 242.9L967.2 237.6L968.9 243.2M1023.9 237.9L1024.2 247.9M1025.1 245.4L1024.2 247.9L1023.2 245.4M1049.5 237.9L1056.4 247.9M1055.6 244.7L1056.4 247.9L1053.7 246.1M1069.5 230L1079.4 233.6M1077.3 231.7L1079.4 233.6L1076.6 233.7M1106.3 251L1115.9 235.2M1112 238.2L1115.9 235.2L1115 240.1M1086.8 260.2L1091.7 247.9M1089.3 250.5L1091.7 247.9L1091.6 251.5M1062.9 271.4L1072.5 258.6M1068.9 260.9L1072.5 258.6L1071.3 262.8M1030 259.4L1032.6 270.9M1033.1 267.8L1032.6 270.9L1030.9 268.3M973.3 269.8L987.7 271.7M984.3 269.8L987.7 271.7L983.9 272.6M949.4 271.7L952.9 268.3M950.5 269.3L952.9 268.3L951.8 270.7M1121.6 262.5L1142.3 267.4M1137.6 264.1L1142.3 267.4L1136.6 268.1M1115.5 287L1135.9 287.8M1130.8 285.6L1135.9 287.8L1130.6 289.6M1176.6 224.1L1188 261.7M1188.7 251.1L1188 261.7L1181.5 253.3M1210.7 231.5L1213.6 254.5M1215.1 248.4L1213.6 254.5L1210.6 249M1248.8 235.6L1248.8 250.5M1250.3 246.8L1248.8 250.5L1247.4 246.8M1240.4 217.4L1271.8 224.4M1264.6 219.6L1271.8 224.4L1263.2 225.7M1275.4 221.1L1308.7 220.8M1300.2 217.6L1308.7 220.8L1300.3 224.1M1301.8 219.5L1339.3 221.8M1330.1 217.6L1339.3 221.8L1329.6 224.9M1153.8 239.5L1154.5 258.2M1156.2 253.4L1154.5 258.2L1152.5 253.5M1175.7 244.1L1176.8 285.5M1180.5 274.9L1176.8 285.5L1172.5 275.1M1284.9 236.1L1285.2 250.2M1286.5 246.6L1285.2 250.2L1283.7 246.7M1307.1 237.6L1320.9 247.9M1318.4 244L1320.9 247.9L1316.4 246.6M1337.3 252.5L1348.5 234.1M1343.9 237.7L1348.5 234.1L1347.5 239.8M1360.8 236.1L1369.2 228M1366.3 229.2L1369.2 228L1367.9 230.8M1366.2 252L1378.4 256.3M1375.8 254.1L1378.4 256.3L1374.9 256.4M1189.8 256.3L1226.3 275.5M1219 267.1L1226.3 275.5L1215.2 274.2M1254.5 262.2L1257 268.6M1257 266L1257 268.6L1255.2 266.7M1311 259.4L1331.2 270.1M1327.1 265.5L1331.2 270.1L1325.1 269.4M1339.8 262.2L1360.8 268.6M1356.1 264.9L1360.8 268.6L1354.9 269M1145.3 290.1L1163.4 283.6M1158.2 283.5L1163.4 283.6L1159.5 287M1168.3 288.8L1197.8 285.2M1190 283.2L1197.8 285.2L1190.7 288.9M1214 291.3L1225.8 282.7M1222 283.7L1225.8 282.7L1223.7 286M1240.7 294.4L1256.5 279.6M1251.1 281.8L1256.5 279.6L1254 284.9M1309.4 289.3L1318.3 284.7M1315.6 285L1318.3 284.7L1316.5 286.7M1328.6 285.5L1357 288.8M1350.1 285.3L1357 288.8L1349.5 290.7M1364.3 296.5L1373.8 283.9M1370.2 286.2L1373.8 283.9L1372.6 288"/></g>
<g clip-path="url(#clipb)"><g filter="url(#cmap)">
<rect x="30.9" y="505.3" width="814.6" height="342.9" fill="#808080"/>
<path d="M249.3 542.7 250.9 571.6 270.3 582.1 320.7 603.1 342.2 617.9 356.3 649.9 392 671.5 439.8 679.9 506.4 692.5 571 706.7 631.3 728.3 667 760.4 663.8 785.1 631.3 795.6 631.3 818.7 831.7 818.7 831.7 597.9 805.5 603.1 756.2 613.7 684.8 617.3 649.1 600 631.3 578.4 628.1 534.8 553.6 534.8 560.5 556.9 542.6 588.9 499.6 603.1 453.4 605.2 399.9 592.6 392 588.9 356.3 571.1 351.1 534.8 249.3 534.8Z" fill="#8a8a8a" filter="url(#b4)"/>
<path d="M334.8 606.8 356.3 591 399.9 606.8 489.1 610.5 542.6 596.3 560.5 571.6 560.5 534.8 624.5 534.8 628.1 588.9 649.1 610.5 684.8 621 805.5 610.5 831.7 613.7 831.7 818.7 720.5 818.7 734.7 770.9 763.5 749.3 756.2 728.3 695.3 717.2 631.3 699.4 560.5 674.6 489.1 656.8 399.9 649.9 392 642.6 349 632.1Z" fill="#909090" filter="url(#b4)"/>
<ellipse cx="301.8" cy="550.6" rx="21" ry="23.7" fill="#909090" filter="url(#b4)"/>
<path d="M531.6 628.4 578.3 610.5 649.1 623.1 805.5 617.9 831.7 617.9 831.7 713.6 805.5 714.1 738.3 710.4 684.8 692.5 628.1 671 578.3 656.8 531.6 632.1Z" fill="#979797" filter="url(#b4)"/>
<path d="M631.3 656.8 656.5 638.9 720.5 632.1 805.5 624.7 831.7 624.2 831.7 700.4 805.5 699.9 756.2 701.5 702.7 688.8 649.1 674.6Z" fill="#9e9e9e" filter="url(#b4)"/>
<ellipse cx="784.5" cy="661" rx="99.7" ry="19.5" fill="#a4a4a4" filter="url(#b4)"/>
<ellipse cx="821.2" cy="655.7" rx="42" ry="13.1" fill="#ababab" filter="url(#b3)"/>
<ellipse cx="593" cy="537.4" rx="28.9" ry="18.4" fill="#9c9c9c" filter="url(#b4)"/>
<ellipse cx="763.5" cy="553.2" rx="102.3" ry="44.7" fill="#6f6f6f" filter="url(#b5)"/>
<ellipse cx="774" cy="547.9" rx="73.5" ry="34.2" fill="#5e5e5e" filter="url(#b5)"/>
<ellipse cx="784.5" cy="542.7" rx="49.8" ry="25.2" fill="#515151" filter="url(#b4)"/>
<ellipse cx="456.6" cy="542.7" rx="60.3" ry="36.8" fill="#6d6d6d" filter="url(#b5)"/>
<path d="M142.3 603.1 199.5 588.4 249.3 606.8 272.4 632.1 245.6 683.6 199.5 687.8 153.3 679.9 117.6 667.3 91.9 632.1 107.1 621Z" fill="#757575" filter="url(#b4)"/>
<ellipse cx="181.1" cy="637.3" rx="52.5" ry="23.7" fill="#6e6e6e" filter="url(#b3)"/>
<ellipse cx="186.3" cy="637.3" rx="7.9" ry="5.3" fill="#6a6a6a" filter="url(#b2)"/>
<path d="M60.4 580 70.9 580 118.1 585.8 167.4 576.8 199.5 553.2 209.9 534.8 60.4 534.8Z" fill="#8a8a8a" filter="url(#b3)"/>
<path d="M60.4 568.4 112.9 574.2 160.1 563.7 181.1 534.8 60.4 534.8Z" fill="#909090" filter="url(#b3)"/>
<path d="M60.4 556.9 107.6 560 144.4 550.6 154.9 534.8 60.4 534.8Z" fill="#979797" filter="url(#b2_5)"/>
<path d="M60.4 549.5 107.6 551.6 136.5 543.7 139.1 534.8 60.4 534.8Z" fill="#9e9e9e" filter="url(#b2)"/>
<ellipse cx="68.3" cy="608.4" rx="9.4" ry="10.5" fill="#747474" filter="url(#b2)"/>
<path d="M60.4 692.5 70.9 692.5 117.6 714.1 153.3 735.1 181.6 753 185.3 770.9 149.6 781.4 117.6 785.1 70.9 788.7 60.4 788.7Z" fill="#8a8a8a" filter="url(#b3)"/>
</g></g>
<g clip-path="url(#clipb)"><path d="M-169.9 567.4 -149.5 571.1 -123.2 562.1 -86.5 560 -81.3 579.5 -60.3 585.8 -34 593.7 -7.8 589.5 13.2 593.1 30.5 591 40.5 591 32.1 598.4 38.4 612.6 47.3 630 56.2 645.2 57.3 656.8 68.3 674.1 87.7 689.4 86.6 695.2 94.5 700.9 112.9 696.7 129.7 693.6 127.6 705.7 118.1 726.7 102.4 744.1 84 760.9 71.9 770.3 67.2 780.3 65.1 789.8 68.3 797.7 69.9 808.2 73 813.5M-169.9 565.8 -172.6 561.6 -185.7 561.1 -185.2 552.7 -188.8 551.6 -185.2 540 -187.3 529 -181 525.8 -158.9 526.9 -148.4 527.4 -145.3 520.6 -145.3 513.2 -150.5 507.4 -162.6 503.8 -163.6 500.6 -147.4 499.6 -148.4 494.3 -138.5 495.3 -130.6 488.5 -122.2 485.4 -116.4 481.2 -112.8 475.4 -101.2 473.8 -93.9 472.2 -95.4 466.4 -96.5 456.4 -89.1 454.9 -83.4 452.2 -84.9 458.5 -87.6 466.4 -82.3 471.7 -73.4 469.6 -64.5 472.2 -52.4 469.1 -41.9 467.5 -35.1 469.6 -28.8 465.4 -28.3 456.4 -20.4 452.2 -12 455.4 -11 448.6 -15.7 444.3 -5.2 442.8 7.9 442.8 19.5 440.7 10.6 437.5 -7.8 439.1 -18.8 440.7 -27.2 435.9 -26.2 427 -10.4 414.9 -6.2 411.7 -22.5 410.2 -27.2 417 -45.6 427 -48.7 434.9 -41.4 439.6 -49.8 447 -52.4 455.9 -55.6 460.6 -64 463.3 -71.3 464.3 -72.9 460.1 -80.2 448 -83.4 444.3 -89.1 446.4 -97 450.1 -109.6 446.4 -112.2 437.5 -112.8 430.1 -102.3 425.4 -94.4 421.7 -83.4 417 -73.4 408.6 -64.5 399.1 -52.4 393.9 -39.3 388.6 -23.5 386 -4.1 381.8 7.9 382.8 23.7 386 18.4 389.1 34.2 391.2 49.9 392.3 73.5 399.1 77.2 404.4 63 408.1 42 405.4 34.2 405.4 43.6 413.8 44.1 417 57.8 420.2 60.4 417 70.9 415.4 70.9 409.1 84 406.5 91.9 408.1 92.9 396.5 102.4 397.6 105 404.4 123.4 398.1 144.4 396.5 160.1 394.9 175.8 393.9 207.3 392.8 217.8 384.9 215.2 372.8 230.9 370.7 244.1 379.7 246.7 395.4 238.8 406 249.3 400.7 254.6 379.7 270.3 376 283.4 369.2 314.9 367.1 317.5 360.2 359.5 355.5 385.7 353.4 408.3 347.1 422.5 350.8 453.9 355 456.6 367.6 427.7 370.2 438.2 367.1 480.2 370.7 509 370.7 527.4 374.4 540.5 382.3 548.4 383.4 558.9 379.7 579.9 380.2 595.6 372.8 627.1 374.9 648.1 379.7 658.6 382.8 690.1 382.8 700.6 389.1 705.8 391.8 737.3 389.7 753 388.1 755.7 393.9 784.5 389.1 805.5 393.3 821.2 397 847.5 403.3 858 408.6 842.2 411.2 826.5 411.7 810.7 407.5 800.3 414.9 792.4 415.4 797.6 421.7 802.9 427 779.3 430.7 755.7 440.1 732 440.7 717.9 445.4 715.8 451.7 717.9 460.1 711.1 466.4 700.6 475.9 692.7 477.5 683.2 487.5 678 479.6 676.9 465.4 679.6 455.9 690.1 450.1 700.6 442.8 708.4 438 700.6 434.9 684.8 431.7 674.3 442.8 658.6 445.4 642.8 442.2 611.4 443.8 598.2 451.7 582.5 469.1 587.7 472.7 602.4 475.9 598.2 487.5 596.7 500.6 587.7 510.1 574.6 521.1 559.4 530.6 553.1 528.5 546.8 533.2 541.6 537.4 540 545.3 530 547.4 534.7 553.2 540 561.1 540 568.4 535.3 571.6 524.8 574.7 524.3 568.4 525.8 561.6 523.7 556.9 518 555.3 518 547.9 513.2 545.8 501.2 542.7 497 551.6 501.7 545.8 495.9 541.1 485.4 549.5 479.1 550.6 478.6 555.3 485.4 558.4 494.9 556.9 503.8 560 495.9 563.7 487 571.1 490.1 574.7 495.4 584.2 500.6 590.5 500.6 593.1 494.9 596.8 501.2 598.4 498.5 605.8 493.3 612.6 488.6 620.5 481.2 626.8 474.9 632.6 468.6 635.7 460.2 638.4 455.5 639.4 448.7 641.5 441.3 644.2 440.3 648.9 437.2 643.1 430.3 641.5 422.5 645.2 420.4 649.4 416.2 655.7 421.4 665.2 429.3 671.5 434 683.1 434 693.6 427.7 698.3 421.4 700.9 420.4 705.7 413 709.9 411.4 703.6 408.3 700.4 401.5 696.7 397.8 691.5 391 688.8 390.5 684.6 386.3 685.2 385.2 695.2 381.5 702 382.1 707.2 387.3 712.5 388.9 718.3 395.2 721.4 398.8 725.1 403.6 731.4 404.1 740.9 407.8 748.3 404.1 748.8 392.5 740.9 387.8 727.2 386.8 721.4 376.8 713 378.4 704.1 378.9 693.6 377.9 684.6 373.7 675.2 373.7 668.9 368.9 666.2 361.6 672.5 355.8 671 356.9 661 352.1 652 345.3 646.3 342.7 638.4 337.5 636.8 334.8 640.5 327.5 641.5 323.8 641 317.5 642.6 316.5 648.4 308.1 652 299.2 661 292.9 668.3 282.4 673.1 281.3 684.6 280.3 692.5 279.7 701.5 276.1 706.7 271.3 708.8 267.7 713 262.4 707.2 258.7 695.2 253.5 687.3 251.9 679.4 246.7 668.9 243 655.7 243 646.3 242 644.2 239.3 644.2 233 646.8 224.1 638.4 229.9 635.2 221.5 632.1 215.2 630 214.1 625.2 210.5 622.1 199.5 623.1 184.2 623.1 170.6 622.1 161.7 621 159.1 613.1 148 615.8 141.2 614.2 131.2 608.9 124.4 597.4 117.6 595.8 112.9 598.9 113.4 604.7 117.6 610.5 124.4 615.2 123.4 619.4 128.6 624.2 131.8 619.4 130.2 626.8 132.8 629.4 144.4 628.4 154.9 618.4 157 624.7 160.1 629.4 169 632.1 174.8 637.3 169.5 646.8 163.8 655.7 160.1 656.2 151.2 663.6 135.4 670.4 118.1 680.4 97.1 688.3 89.3 688.8 85.6 677.3 84.5 668.9 76.1 655.2 66.2 642.6 63 631 56.2 623.1 47.8 611.6 44.7 607.9 44.1 600.5 41 608.4 35.7 605.2 32.1 598.4M13.2 539 26.3 538.5 36.8 534.8 45.7 534.8 52.5 538.5 63 540.6 78.8 537.4 78.8 531.1 69.3 526.9 60.4 522.2 56.7 517.4 53.1 516.9 46.8 519 37.8 522.2 31.5 517.4 37.3 513.2 26.3 510.6 19.5 514.8 16.3 518 11.1 525.3 7.4 530.1 7.9 535.3 13.2 539M118.1 511.1 128.6 508.5 139.1 509.5 139.1 517.4 129.7 521.6 124.9 522.7 130.2 528.5 136.5 530.6 137.5 538.5 144.4 538.5 139.1 545.3 143.8 550.6 143.3 561.1 133.9 562.1 124.9 559 118.1 553.7 119.7 543.7 115.5 535.8 109.7 529.5 106.1 521.6 110.3 515.9 118.1 511.1M544.2 579 552.1 579 553.6 583.2 550.5 590.5 546.3 591.6 544.2 586.3 541.6 582.1 544.2 579M547.9 576.8 556.3 575.3 566.8 573.2 570.4 574.2 570.4 579 574.6 579.5 579.3 574.2 586.2 573.7 589.3 572.6 594.6 571.6 595.6 569.5 600.3 567.9 600.9 561.1 600.9 554.2 606.1 547.9 603.5 538.5 597.2 539 595.6 545.3 594.6 551.6 587.7 559.5 579.9 560 581.4 562.1 578.3 562.7 574.6 567.9 569.4 567.9 558.9 569 553.6 572.1 547.9 576.8M555.7 579.5 558.9 576.8 567.3 575.8 565.7 579 559.9 582.1 556.8 582.6 555.7 579.5M597.2 537.4 595.6 532.2 597.7 527.9 604 516.9 608.7 520.1 623.4 523.2 624.5 527.9 612.9 534.8 605.1 531.6 600.9 534.8 597.2 537.4M495.9 624.2 500.6 624.2 498.5 632.1 494.9 639.9 491.7 634.7 495.9 624.2M431.4 654.7 436.6 649.9 443.4 651 440.8 656.8 435.6 659.9 431.4 654.7M280.3 704.6 287.1 710.9 290.2 717.8 287.6 722.5 281.8 724.1 279.7 716.2 280.3 704.6M493.8 658.3 502.2 658.9 503.3 668.9 499.1 674.1 500.1 681 511.7 687.3 512.2 689.4 506.4 683.6 502.7 683.1 495.4 683.1 493.8 678.3 491.2 676.8 492.2 670.4 492.2 663.6 493.8 658.3M501.2 718.8 509 710.4 518.5 704.1 523.7 710.9 524.3 721.4 519.5 725.6 518.5 719.9 511.7 722.5 512.2 716.2 506.4 716.2 501.2 718.8M516.9 689.9 520.6 696.7 516.9 697.8 513.2 690.4 516.9 689.9M501.2 693.6 506.9 695.2 508 703.6 503.8 705.7 501.2 700.4 501.2 693.6M476 711.5 488 696.2 486.5 702 479.1 709.9 476 711.5M433.5 749.3 437.2 745.6 443.4 747.2 445.5 741.9 453.9 738.8 460.2 731.4 467.1 726.7 473.4 719.3 478.6 722.5 486.5 728.3 480.2 733 478.6 738.8 484.9 750.4 479.1 751.4 477.6 759.8 471.3 764.6 471.3 772.4 469.2 775.1 462.3 777.2 457.1 773.5 447.6 774 439.2 770.9 438.7 764 434 758.2 433.5 749.3M361.1 726.2 372.6 728.3 378.4 735.6 387.8 743.5 394.6 745.1 402 753 405.7 760.9 409.9 765.6 417.2 771.4 416.7 786.1 409.9 786.1 397.8 776.7 389.9 767.2 381.5 754.6 376.3 745.1 367.4 736.2 361.1 726.2M413 791.4 420.9 787.2 430.3 790.3 442.4 789.3 452.4 791.9 461.8 796.6 461.3 800.8 448.7 799.3 433 796.6 419.8 794.5 413 791.4M464.4 799.3 468.1 800.8 465.5 801.9 464.4 799.3M469.7 799.8 473.4 801.9 470.7 802.4 469.7 799.8M474.9 799.8 485.4 800.8 480.2 802.4 474.9 799.8M490.1 800.3 505.9 799.3 501.2 802.4 490.1 800.3M509.6 809.8 527.4 799.8 516.9 804.5 509.6 809.8M489.6 751.4 495.4 748.8 507.5 750.9 516.9 747.2 513.2 753.5 497.5 753 491.7 760.4 498.5 760.4 508 760.4 500.1 765.6 505.4 776.7 502.7 783 498.5 780.3 495.4 770.3 492.8 784.5 488 784 488 774 484.9 769.8 489.6 751.4M530 746.2 532.6 753 535.8 747.7 532.1 744.6 530 746.2M523.2 772.4 528.5 773 526.4 775.6 523.2 772.4M532.6 771.4 547.3 773.5 540.5 774 532.6 771.4M548.4 759.8 556.3 757.7 564.7 759.8 566.8 768.8 572 773 584.1 763.5 600.9 769.3 619.2 775.6 626 783.5 635 787.2 636.5 790.8 632.3 791.4 631.8 794.5 639.2 800.8 648.1 809.3 652.3 811.9M635 809.3 627.1 802.4 619.8 795.6 611.4 799.3 612.9 802.9 600.9 803.5 590.4 798.2 585.1 799.8 589.3 793.5 585.6 785.6 574.1 779.3 562.6 776.1 558.4 777.2 553.6 770.9 562 768.8 555.2 767.7 548.4 763.5 548.4 759.8M639.2 785.6 648.1 781.9 658.6 777.7 660.2 781.9 653.3 787.2 645.5 788.2 639.2 785.6M672.7 784.5 679 791.4 675.4 789.8 672.7 784.5M684.8 794 699.5 799.8 692.7 797.7 684.8 794M700.6 805.6 708.4 808.2 703.2 807.7 700.6 805.6M141.7 689.9 147 689.4 144.4 690.9 141.7 689.9" fill="none" stroke="#444" stroke-width="0.6"/></g>
<g clip-path="url(#clipb)"><path d="M81.5 547.8h0M99.3 547.8h0M117.1 547.8h0M134.9 547.8h0M740.8 583.6h0M562.6 601.4h0M580.4 601.4h0M598.2 601.4h0M357.7 610.4h0M375.5 610.4h0M482.4 610.4h0M500.2 610.4h0M518.1 610.4h0M535.9 610.4h0M553.7 610.4h0M571.5 610.4h0M589.3 610.4h0M607.2 610.4h0M625 610.4h0M366.6 619.3h0M384.4 619.3h0M402.2 619.3h0M420 619.3h0M437.9 619.3h0M455.7 619.3h0M473.5 619.3h0M491.3 619.3h0M509.1 619.3h0M527 619.3h0M544.8 619.3h0M562.6 619.3h0M580.4 619.3h0M598.2 619.3h0M616.1 619.3h0M633.9 619.3h0M197.3 628.2h0M357.7 628.2h0M375.5 628.2h0M393.3 628.2h0M411.1 628.2h0M429 628.2h0M446.8 628.2h0M464.6 628.2h0M482.4 628.2h0M500.2 628.2h0M518.1 628.2h0M535.9 628.2h0M553.7 628.2h0M571.5 628.2h0M589.3 628.2h0M607.2 628.2h0M625 628.2h0M642.8 628.2h0M660.6 628.2h0M678.4 628.2h0M803.2 628.2h0M152.7 637.1h0M170.6 637.1h0M188.4 637.1h0M206.2 637.1h0M224 637.1h0M366.6 637.1h0M384.4 637.1h0M402.2 637.1h0M420 637.1h0M437.9 637.1h0M455.7 637.1h0M473.5 637.1h0M491.3 637.1h0M509.1 637.1h0M527 637.1h0M544.8 637.1h0M562.6 637.1h0M580.4 637.1h0M598.2 637.1h0M616.1 637.1h0M633.9 637.1h0M651.7 637.1h0M669.5 637.1h0M687.3 637.1h0M705.2 637.1h0M723 637.1h0M740.8 637.1h0M758.6 637.1h0M776.4 637.1h0M794.3 637.1h0M143.8 646.1h0M161.7 646.1h0M179.5 646.1h0M197.3 646.1h0M215.1 646.1h0M232.9 646.1h0M411.1 646.1h0M429 646.1h0M446.8 646.1h0M464.6 646.1h0M482.4 646.1h0M500.2 646.1h0M518.1 646.1h0M535.9 646.1h0M553.7 646.1h0M571.5 646.1h0M589.3 646.1h0M607.2 646.1h0M625 646.1h0M642.8 646.1h0M660.6 646.1h0M678.4 646.1h0M696.3 646.1h0M714.1 646.1h0M731.9 646.1h0M749.7 646.1h0M767.5 646.1h0M785.4 646.1h0M803.2 646.1h0M152.7 655h0M170.6 655h0M188.4 655h0M206.2 655h0M224 655h0M544.8 655h0M562.6 655h0M580.4 655h0M598.2 655h0M616.1 655h0M633.9 655h0M651.7 655h0M669.5 655h0M687.3 655h0M705.2 655h0M723 655h0M740.8 655h0M758.6 655h0M776.4 655h0M794.3 655h0M179.5 663.9h0M197.3 663.9h0M215.1 663.9h0M589.3 663.9h0M607.2 663.9h0M625 663.9h0M642.8 663.9h0M660.6 663.9h0M678.4 663.9h0M696.3 663.9h0M714.1 663.9h0M731.9 663.9h0M749.7 663.9h0M767.5 663.9h0M785.4 663.9h0M803.2 663.9h0M633.9 672.9h0M651.7 672.9h0M669.5 672.9h0M687.3 672.9h0M705.2 672.9h0M723 672.9h0M740.8 672.9h0M758.6 672.9h0M776.4 672.9h0M794.3 672.9h0M678.4 681.8h0M696.3 681.8h0M714.1 681.8h0M731.9 681.8h0M749.7 681.8h0M767.5 681.8h0M785.4 681.8h0M803.2 681.8h0M705.2 690.7h0M723 690.7h0M740.8 690.7h0M758.6 690.7h0M776.4 690.7h0M794.3 690.7h0M731.9 699.7h0M749.7 699.7h0M767.5 699.7h0M785.4 699.7h0M803.2 699.7h0M776.4 708.6h0M794.3 708.6h0" stroke="#9070db" stroke-width="4.4" stroke-linecap="round" fill="none"/></g>
<g clip-path="url(#clipb)"><path class="as" stroke-width="2.9" d="M132.6 550.6L113.7 552.4M118.6 553.8L113.7 552.4L118.2 550.1M157.5 549.8L141.6 552.8M145.9 553.6L141.6 552.8L145.3 550.6M183.2 549.4L168.1 553.9M172.3 554.2L168.1 553.9L171.4 551.3M79.6 560.1L66 562.7M69.7 563.3L66 562.7L69.2 560.7M104.6 561.9L88.7 561.2M92.6 562.9L88.7 561.2L92.8 559.8M254.7 557.4L254.2 546M253.2 548.9L254.2 546L255.4 548.9M278.4 555.9L282.9 546.8M280.9 548.6L282.9 546.8L282.7 549.5M230 565.7L226.3 556.3M226.3 559.1L226.3 556.3L228.1 558.3M254.7 576.3L254.2 565.7M253.3 568.4L254.2 565.7L255.4 568.3M279.9 575.5L281 566.5M279.8 568.8L281 566.5L281.6 569M231.6 586.1L224.4 576M225.3 579.2L224.4 576L227.2 577.8M272.4 595.2L262.5 587.2M264.2 590.1L262.5 587.2L265.8 588.2M194.5 601.7L182.1 600.8M185.2 602.2L182.1 600.8L185.3 599.8M221 604.7L208.9 597.7M211.3 600.7L208.9 597.7L212.6 598.3M247.4 606.2L235.3 596.2M237.4 599.9L235.3 596.2L239.3 597.6M272.4 614.8L262.5 607.3M264.3 610.1L262.5 607.3L265.7 608.2M298.1 614.8L289 606.8M290.5 609.7L289 606.8L292.1 607.9M127 616.8L119.3 625.6M122 624.1L119.3 625.6L120.3 622.6M97.3 625.4L96.7 636.7M98 633.9L96.7 636.7L95.8 633.8M219.5 625.9L209.6 616.3M211.2 619.7L209.6 616.3L213 617.8M245.2 626.2L236.5 615.6M237.7 619.1L236.5 615.6L239.7 617.4M268.6 636.7L266.8 625.4M266.1 628.4L266.8 625.4L268.3 628.1M294 636.7L294 625.4M292.9 628.3L294 625.4L295.1 628.3M71.3 629.2L73.6 636.7M73.8 634.1L73.6 636.7L72 634.7M124.2 634.5L122 647.3M123.8 644.3L122 647.3L121.3 643.9M151.4 637.5L147.7 645M149.6 643.3L147.7 645L147.9 642.5M213.9 646.6L215.7 636M214.2 638.5L215.7 636L216.2 638.8M240.6 647.3L242.1 634.9M240.6 637.9L242.1 634.9L243 638.2M95.5 643.5L98.5 658.7M99.2 654.5L98.5 658.7L96.3 655.1M276.9 656.4L284.5 645.8M281.5 647.7L284.5 645.8L283.6 649.2M119.7 655.6L126.5 666.2M125.8 662.9L126.5 666.2L123.8 664.2M196 665.2L207.4 657.1M203.7 658.1L207.4 657.1L205.3 660.3M222.5 666.2L233.8 655.6M229.9 657.2L233.8 655.6L232 659.4M248.9 667L260.3 654.9M256.2 656.8L260.3 654.9L258.6 659M71.3 651.9L74.4 659.4M74.3 656.8L74.4 659.4L72.6 657.5M92.5 665.2L100.8 676.8M99.8 673.1L100.8 676.8L97.6 674.7M276.9 674.5L284.5 667.7M281.9 668.7L284.5 667.7L283.2 670.2M71.3 671.5L75.1 679.1M74.9 676.5L75.1 679.1L73.2 677.3M355.2 547.9L363.2 555.1M361.9 552.5L363.2 555.1L360.5 554.1M382.8 546.8L387.7 556.3M387.4 553.5L387.7 556.3L385.5 554.4M408.1 555.9L415.6 567.2M414.8 563.6L415.6 567.2L412.6 565.1M437.2 556.6L439.4 566M439.7 563.4L439.4 566L437.9 563.8M509.3 554.4L498 548.8M500.3 551.3L498 548.8L501.4 549.1M535 554.8L524 547.6M526.1 550.5L524 547.6L527.5 548.3M379.4 567.2L391.4 576M389.2 572.6L391.4 576L387.5 574.9M514.6 574.8L519.2 568M517 569.5L519.2 568L518.6 570.5M541.8 575.5L544.1 566.9M542.6 569L544.1 566.9L544.4 569.5M404.6 577L419.1 585.6M416.3 582.1L419.1 585.6L414.6 584.9M430.7 577.8L445.1 584.6M442.1 581.5L445.1 584.6L440.8 584.3M457.5 580.1L470.5 583.1M467.5 581.1L470.5 583.1L466.9 583.6M354.1 580.8L364.2 581.6M361.8 580.4L364.2 581.6L361.6 582.4M379.4 589.9L391.4 592.9M388.7 591L391.4 592.9L388.1 593.3M483.2 591.7L497.2 591.1M493.6 589.9L497.2 591.1L493.8 592.6M405 600.5L418.2 602.3M415.1 600.5L418.2 602.3L414.7 603.1M430.3 598.9L445.4 603.2M442 600.7L445.4 603.2L441.2 603.6M457.2 600.2L471.1 602.7M467.8 600.7L471.1 602.7L467.3 603.4M323.9 614.8L315.9 607.7M317.2 610.3L315.9 607.7L318.6 608.7M349.6 624.6L342.3 617.8M343.5 620.3L342.3 617.8L344.8 618.9M321.5 635.5L318.4 626.5M318.3 629.1L318.4 626.5L320.1 628.5M305.7 654.9L307.6 647.6M306.1 649.7L307.6 647.6L307.9 650.2M507.8 652.6L498.8 650.6M500.9 652.1L498.8 650.6L501.3 650.2M534.3 652.6L525.2 650.3M527.3 651.8L525.2 650.3L527.8 650M430 671.2L419.4 671.2M422.1 672.2L419.4 671.2L422.1 670.2M455.7 671.5L446.6 670.7M449 671.9L446.6 670.7L449.1 670M508.6 670.7L498.3 671.2M500.9 672.1L498.3 671.2L500.9 670.1M535.8 672.3L523.7 669.7M526.5 671.5L523.7 669.7L527 669.2M615.6 550.8L601.4 552M605.1 553.1L601.4 552L604.9 550.4M573.2 566.2L566.2 557M567.1 560L566.2 557L568.9 558.6M640.3 557.7L629.5 565.5M633 564.6L629.5 565.5L631.5 562.5M667.8 556.7L654.5 566.2M658.8 565.1L654.5 566.2L656.9 562.5M693.5 556.7L680.1 566.2M684.4 565.1L680.1 566.2L682.6 562.5M721.3 547.4L705.1 555.1M709.9 554.7L705.1 555.1L708.4 551.6M617.9 577.8L624.9 585.5M623.9 582.9L624.9 585.5L622.4 584.2M645.7 576.7L650.8 587.1M650.5 584L650.8 587.1L648.5 584.9M671.9 577L676.6 586.3M676.3 583.5L676.6 586.3L674.5 584.4M628.7 598.3L641.1 604M638.5 601.4L641.1 604L637.4 603.8M653.4 597.9L668.8 604.8M665.6 601.6L668.8 604.8L664.3 604.5M758.3 584.4L774.5 577.8M769.8 577.9L774.5 577.8L771.1 581M741.4 604.8L763.7 597.4M757.4 597.1L763.7 597.4L758.8 601.4M766.8 605.6L791.5 597.1M784.5 596.8L791.5 597.1L786.1 601.6M791.5 604.5L816.2 597.4M809.3 596.8L816.2 597.4L810.7 601.6M688.4 611.3L712 611.3M706.1 609L712 611.3L706.1 613.6M713.6 612.5L739.8 609.7M732.9 607.9L739.8 609.7L733.5 613M640.3 620.5L655.4 621.5M651.7 619.8L655.4 621.5L651.5 622.7M663.1 621L685 621M679.5 618.9L685 621L679.5 623.1M737.5 624.1L766.8 618.7M758.9 617.2L766.8 618.7L759.9 622.9M763 625.6L793.8 615.9M785.1 615.4L793.8 615.9L787 621.4M789.2 624.6L817.7 617.9M809.9 616.8L817.7 617.9L811.2 622.4M685.8 632.6L714.4 629.8M706.9 627.7L714.4 629.8L707.4 633.3M714.4 632.3L741.4 629.2M734.3 627.3L741.4 629.2L734.9 632.6M642.6 645.7L653.4 636.4M649.8 637.7L653.4 636.4L651.6 639.8M665.3 644.9L682.7 636.9M677.6 637.2L682.7 636.9L679.1 640.6M754.5 644.9L777.6 636.9M771 636.7L777.6 636.9L772.6 641.2M783.8 644.2L800 637.5M795.3 637.6L800 637.5L796.5 640.8M707.4 652.6L719.8 649.6M716.3 649.1L719.8 649.6L716.9 651.5M733.6 652.3L746 649.6M742.6 649.1L746 649.6L743.1 651.4M769.9 661.9L759.9 659.6M762.2 661.1L759.9 659.6L762.6 659.2M798.4 661.9L785.3 660.7M788.5 662.2L785.3 660.7L788.8 659.7M638.8 666.5L630.3 656M631.4 659.5L630.3 656L633.4 657.9M663.4 666.8L657.6 655M657.9 658.5L657.6 655L660.2 657.4M688.9 664.7L685 657M685.3 659.5L685 657L687 658.7M563.1 672.7L549.3 669.3M552.4 671.5L549.3 669.3L553.1 668.8M589.4 672.7L574.7 668.8M578 671.2L574.7 668.8L578.8 668.4M616.4 673L600.9 668.1M604.4 670.8L600.9 668.1L605.3 667.8M68.7 691.2L75.1 696.7M73.9 694.4L75.1 696.7L72.6 695.8M70.8 710.2L72.7 715.8M72.8 713.2L72.7 715.8L71 713.8M71.1 730.1L72.4 734.8M72.7 732.3L72.4 734.8L70.9 732.7M71.4 749.1L72.7 753.9M73 751.3L72.7 753.9L71.2 751.8M64.8 782.1L80.6 782.1M76.6 780.6L80.6 782.1L76.6 783.7M61.6 800.7L85.4 800.7M79.4 798.4L85.4 800.7L79.4 803M91 686.4L102.5 695.2M100.5 691.8L102.5 695.2L98.8 694.1M93.7 706.6L100.5 715.5M99.6 712.6L100.5 715.5L97.9 713.9M95.2 726.1L98.9 734.8M98.8 732.2L98.9 734.8L97.1 733M93.7 747.5L100.5 754.2M99.4 751.8L100.5 754.2L98.1 753.2M87.3 779L106.8 782.1M102.2 779.5L106.8 782.1L101.6 783.2M79 800.7L110 800.2M102.2 797.4L110 800.2L102.2 803.4M116.3 676.4L129.8 685.3M127.3 681.8L129.8 685.3L125.6 684.4M117.5 696.7L128.6 705M126.6 701.8L128.6 705L125 704M120.3 716.6L126.3 725M125.6 722.3L126.3 725L124 723.5M118.4 737.7L127.9 744M126.2 741.5L127.9 744L124.9 743.4M114.8 759L131.7 762.1M127.8 759.7L131.7 762.1L127.2 763M113.2 780.6L133.3 780.9M128.3 778.8L133.3 780.9L128.2 782.7M112.4 801.8L133.8 799.9M128.2 798.3L133.8 799.9L128.6 802.5M142.5 678.5L156 683.7M153.1 681.1L156 683.7L152.1 683.7M143.8 698.3L155.2 703.4M152.8 701L155.2 703.4L151.9 703.2M144.1 719.8L154.9 722.5M152.5 720.7L154.9 722.5L151.9 722.8M142.2 741.2L156.8 741.2M153.1 739.8L156.8 741.2L153.1 742.6M139.4 761.8L159.7 759.9M154.4 758.4L159.7 759.9L154.7 762.4M139.4 782.5L159.7 779M154.2 777.9L159.7 779L154.9 781.8M139.4 802.8L159.2 799.1M153.9 798.1L159.2 799.1L154.6 802M168.7 682.5L183 679.6M179.1 678.9L183 679.6L179.7 681.7M168.7 702.8L183 699.1M179.1 698.7L183 699.1L179.8 701.4M169.2 723.7L183 718.2M179 718.2L183 718.2L180.1 720.9M167.6 744L183.8 737.2M179.1 737.4L183.8 737.2L180.4 740.5M166.7 764.7L184.6 756.7M179.3 757L184.6 756.7L180.8 760.5M167.9 783.7L183.8 777.4M179.2 777.4L183.8 777.4L180.4 780.5M167.9 803.9L183.8 797.1M179.1 797.2L183.8 797.1L180.5 800.3M194.6 685.3L210 676.4M205.3 677.2L210 676.4L207 680.2M194.6 705.5L210 696.7M205.3 697.5L210 696.7L207 700.4M194.6 725.3L210 716.6M205.3 717.3L210 716.6L207 720.3M194.6 745.2L210 736.7M205.3 737.4L210 736.7L206.9 740.4M194.6 765.3L209.2 756.3M204.6 757.1L209.2 756.3L206.4 760M195.7 784.4L208.4 776.9M204.5 777.6L208.4 776.9L205.9 780M194.9 803.1L209.2 798.3M205.1 798.2L209.2 798.3L206.1 800.9M220.6 685.6L236.2 675.3M231.3 676.4L236.2 675.3L233.3 679.4M220.6 706L236.2 695.5M231.3 696.6L236.2 695.5L233.3 699.6M220.6 726.1L236.2 715.8M231.3 716.9L236.2 715.8L233.3 719.9M220 746L236.5 736.4M231.4 737.2L236.5 736.4L233.3 740.4M221.1 765.8L235.9 755.8M231.2 756.9L235.9 755.8L233.1 759.7M223.2 784.8L233 776.9M229.8 778L233 776.9L231.3 779.9M248.1 685.6L260.3 676.4M256.3 677.6L260.3 676.4L258.1 679.9M248.1 704.7L260.3 696.7M256.5 697.6L260.3 696.7L258 699.9M247.3 726.1L261.3 715.5M256.7 716.8L261.3 715.5L258.8 719.5M246.5 746L262.4 736.1M257.4 737.1L262.4 736.1L259.3 740.1M247.3 765.8L261.3 755.8M256.8 757L261.3 755.8L258.7 759.7M248.9 784.8L259.7 777.4M256.2 778.2L259.7 777.4L257.7 780.3M274.3 722.9L287 718.7M283.4 718.5L287 718.7L284.2 721M272.7 744L288.6 737.7M284 737.8L288.6 737.7L285.2 740.8M273.5 765L287.8 756.3M283.3 757.1L287.8 756.3L285 759.9M274.6 784.4L286.7 776.9M282.9 777.6L286.7 776.9L284.3 780M296.8 733.6L313.5 729.8M308.9 729.1L313.5 729.8L309.7 732.3M297.6 753.9L314.6 748.3M309.8 748.1L314.6 748.3L310.9 751.4M297.6 775.8L314.3 767.4M309.3 767.9L314.3 767.4L310.9 771.1M326.7 742.8L339.7 738.8M336 738.6L339.7 738.8L336.8 741.1M326.2 763.1L339.7 758.3M335.8 758.2L339.7 758.3L336.7 760.8M354.3 741.5L364.3 740.4M361.7 739.7L364.3 740.4L361.9 741.6M353.7 761.5L365.1 759.9M362 759.2L365.1 759.9L362.4 761.4M340.5 783.3L352.1 778M348.6 778.2L352.1 778L349.6 780.5M314.6 793.6L325.4 788M322.1 788.4L325.4 788L323.2 790.5M334.9 703.6L331 698.3M331.7 700.8L331 698.3L333.2 699.7M403.2 681.7L394 680.6M396.3 681.8L394 680.6L396.5 679.9M440.5 693.3L434.6 688.8M436 691L434.6 688.8L437.1 689.5M481.7 691.2L472.7 690.4M475 691.5L472.7 690.4L475.2 689.7M509.5 691.2L497.6 691.2M500.6 692.3L497.6 691.2L500.6 690M536.5 691.2L523 690.4M526.3 691.9L523 690.4L526.5 689.3M495.2 711.8L485.4 711M487.8 712.2L485.4 711L488 710.3M522.2 711.3L510.8 711M513.6 712.2L510.8 711L513.7 710M554 712.3L536.5 710.2M540.7 712.4L536.5 710.2L541.1 709.1M534.6 730.9L525.1 730.9M527.5 731.8L525.1 730.9L527.5 729.9M520.6 751L512.7 751.5M515.2 752.3L512.7 751.5L515.1 750.4M548.4 749.1L536.8 752.6M540.1 752.9L536.8 752.6L539.4 750.6M643.2 685.6L626.5 676.1M629.8 680.1L626.5 676.1L631.6 676.9M670.2 685.6L651.9 675.8M655.6 680L651.9 675.8L657.5 676.5M697.1 683.7L677.3 679M681.8 682.1L677.3 679L682.8 678.2M724.9 681.7L701.9 680.1M707.6 682.7L701.9 680.1L707.9 678.3M751.9 681.2L728.1 680.9M734.1 683.3L728.1 680.9L734.1 678.6M778.9 681.2L753.5 680.9M759.9 683.4L753.5 680.9L759.9 678.5M806.7 680.9L781 681.2M787.5 683.6L781 681.2L787.4 678.6M563.8 693.3L547.6 689.1M551.3 691.7L547.6 689.1L552.1 688.6M592.1 693.9L572.5 688.5M576.9 691.7L572.5 688.5L578 688M618.6 694.4L598.4 688M602.9 691.6L598.4 688L604.1 687.7M657.8 703.9L638.1 698M642.5 701.4L638.1 698L643.6 697.6M685.2 703.1L663 699.1M668.2 702.3L663 699.1L669 698M711.4 702.3L689.2 699.9M694.6 702.7L689.2 699.9L695 698.4M738.4 701.2L714.6 700.7M720.6 703.1L714.6 700.7L720.7 698.5M765.4 700.7L741.6 701.2M747.6 703.4L741.6 701.2L747.5 698.8M790.8 700.7L767.3 701.2M773.3 703.3L767.3 701.2L773.2 698.8M816.2 699.6L794.8 701.8M800.4 703.3L794.8 701.8L799.9 699.2M577.3 712.3L561 709.8M564.8 712L561 709.8L565.3 708.8M605.1 712.6L585.7 709.4M590.3 712.1L585.7 709.4L590.9 708.4M631.7 712.9L611.7 708.7M616.4 711.7L611.7 708.7L617.2 707.8M670.5 721.8L651.4 719.8M656 722.1L651.4 719.8L656.4 718.4M696.3 721.3L677.8 720.2M682.4 722.3L677.8 720.2L682.6 718.7M722.5 720.6L704.3 721.3M709 722.9L704.3 721.3L708.8 719.4M747.6 719.8L731.3 721.8M735.6 722.9L731.3 721.8L735.2 719.7M774.1 719.8L757.5 722.1M761.9 723.2L757.5 722.1L761.4 719.9M800.3 718.7L784.4 723.7M788.9 724L784.4 723.7L788 720.9M563 729.3L549.8 732M553.4 732.6L549.8 732L552.9 730M589.5 729.3L575.2 731.7M579.1 732.4L575.2 731.7L578.6 729.7M617.5 729.3L599.5 731.7M604.3 732.8L599.5 731.7L603.8 729.3M643.5 730.9L625.7 730.1M630.1 732L625.7 730.1L630.3 728.6M682.5 742L665.7 739.6M669.7 741.8L665.7 739.6L670.2 738.6M708.3 742L692.4 739.9M696.2 742L692.4 739.9L696.6 738.9M734.4 742L718.6 739.9M722.4 742L718.6 739.9L722.8 738.9M759.8 741.5L745.6 739.9M749 741.7L745.6 739.9L749.3 738.9M786 742L772.1 740.4M775.4 742.1L772.1 740.4L775.7 739.4M812.2 742L797.9 741.2M801.5 742.8L797.9 741.2L801.6 740M575.2 747.9L563.5 753.9M567 753.5L563.5 753.9L565.9 751.2M602.2 747.5L588.4 754.2M592.5 753.9L588.4 754.2L591.2 751.2M629.2 748.3L614.3 753.1M618.5 753.3L614.3 753.1L617.6 750.5M655.1 750.4L640.8 752M644.5 753L640.8 752L644.2 750.2M681 759.9L667 761.8M670.7 762.7L667 761.8L670.3 760M707.5 759.9L693.2 761.8M697 762.7L693.2 761.8L696.6 760M734 760.2L719 761.5M722.9 762.6L719 761.5L722.7 759.7M760.3 760.2L745.6 761.5M749.4 762.6L745.6 761.5L749.2 759.8M786.3 759.9L771.4 761.8M775.4 762.8L771.4 761.8L775 759.9M812.2 759.9L797.1 761.8M801.1 762.8L797.1 761.8L800.8 759.9M561.4 768.2L550.8 772.9M553.9 772.8L550.8 772.9L553 770.7M600.6 768.5L589.5 773.3M592.8 773.1L589.5 773.3L591.9 771M627.3 769L615.9 772.1M619.1 772.4L615.9 772.1L618.4 770.2M653.5 769L642.4 772.1M645.5 772.4L642.4 772.1L644.9 770.3M692.7 778L681.3 783.7M684.7 783.4L681.3 783.7L683.6 781.2M720.6 778L706.3 783.3M710.5 783.3L706.3 783.3L709.4 780.6M747.1 778L732.1 783.7M736.4 783.7L732.1 783.7L735.3 780.8M773 778L758.7 783.3M762.8 783.3L758.7 783.3L761.8 780.6M799 777.4L785.2 784M789.4 783.7L785.2 784L788.1 781M600.6 789.1L589.5 792.3M592.6 792.6L589.5 792.3L592 790.4M691.6 796L682.9 805.5M686 803.9L682.9 805.5L684.1 802.2M717.5 796.4L709 805M712 803.7L709 805L710.3 802M744.4 796.4L735.2 804.4M738.3 803.3L735.2 804.4L736.8 801.5M770.5 798L761 802.8M763.8 802.5L761 802.8L762.9 800.7M796.8 798.7L787.3 802.8M790.1 802.7L787.3 802.8L789.3 800.8"/></g>
<g clip-path="url(#clipc)"><g filter="url(#cmap)">
<rect x="956.2" y="505.3" width="814.4" height="342.9" fill="#8a8a8a"/>
<path d="M1651.9 534.8 1662.4 592.6 1625.7 642.6 1573.2 658.3 1457.8 661 1439.5 674.1 1439.5 703 1468.3 716.2 1746.3 724.1 1746.3 534.8Z" fill="#808080" filter="url(#b4)"/>
<path d="M1106.4 582.1 1132.6 592.6 1153.6 600.5 1169.3 618.9 1179.8 650.5 1216.5 655.7 1227 624.2 1216.5 597.9 1195.5 579.5 1174.6 563.7 1153.6 555.8 1148.3 576.8 1122.1 569Z" fill="#9e9e9e" filter="url(#b4)"/>
<path d="M1116.9 655.7 1153.6 650.5 1185 666.2 1227 682 1253.2 697.8 1253.2 745.1 1179.8 747.7 1111.6 742.5 1085.4 729.3 1101.1 708.3 1116.9 687.3Z" fill="#9e9e9e" filter="url(#b4)"/>
<path d="M1169.3 705.7 1284.7 697.8 1321.4 713.6 1352.9 729.3 1394.9 710.9 1421.1 713.6 1421.1 766.1 1363.4 771.4 1310.9 771.4 1258.5 774 1169.3 771.4Z" fill="#9e9e9e" filter="url(#b4)"/>
<ellipse cx="1032.9" cy="611" rx="65.6" ry="63.1" fill="#808080" filter="url(#b5)"/>
<ellipse cx="1032.9" cy="613.7" rx="49.8" ry="47.3" fill="#6f6f6f" filter="url(#b5)"/>
<ellipse cx="1011.9" cy="555.8" rx="21" ry="15.8" fill="#6f6f6f" filter="url(#b4)"/>
<ellipse cx="1025.1" cy="579.5" rx="9.4" ry="7.9" fill="#808080" filter="url(#b3)"/>
<ellipse cx="1025.1" cy="616.3" rx="36.7" ry="23.7" transform="rotate(-20 1025.1 616.3)" fill="#515151" filter="url(#b5)"/>
<ellipse cx="1051.3" cy="584.7" rx="18.4" ry="15.8" fill="#4a4a4a" filter="url(#b4)"/>
<ellipse cx="1019.8" cy="618.9" rx="23.6" ry="13.1" transform="rotate(-10 1019.8 618.9)" fill="#222222" filter="url(#b4)"/>
<ellipse cx="1085.4" cy="613.7" rx="26.2" ry="15.8" fill="#808080" filter="url(#b4)"/>
<ellipse cx="1093.2" cy="566.3" rx="28.9" ry="31.5" fill="#9f9f9f" filter="url(#b5)"/>
<ellipse cx="1093.2" cy="563.7" rx="10.5" ry="13.1" fill="#b5b5b5" filter="url(#b4)"/>
<path d="M1095.9 582.1 1132.6 590 1169.3 582.1" fill="none" stroke="#9e9e9e" stroke-width="22" stroke-linecap="round" stroke-linejoin="round" filter="url(#u5)"/>
<ellipse cx="1190.3" cy="624.2" rx="28.9" ry="34.2" transform="rotate(30 1190.3 624.2)" fill="#9f9f9f" filter="url(#b5)"/>
<ellipse cx="1192.9" cy="624.2" rx="15.7" ry="15.8" fill="#a6a6a6" filter="url(#b4)"/>
<ellipse cx="1137.8" cy="567.4" rx="14.7" ry="13.7" fill="#808080" filter="url(#b3)"/>
<ellipse cx="1192.9" cy="592.6" rx="5.2" ry="3.7" fill="#808080" filter="url(#b2)"/>
<ellipse cx="1206" cy="563.7" rx="52.5" ry="28.9" fill="#808080" filter="url(#b4)"/>
<ellipse cx="1242.7" cy="582.1" rx="26.2" ry="28.9" fill="#808080" filter="url(#b4)"/>
<ellipse cx="1269" cy="563.7" rx="21" ry="15.8" fill="#808080" filter="url(#b3)"/>
<ellipse cx="1203.4" cy="561.1" rx="36.7" ry="20" fill="#6b6b6b" filter="url(#b4)"/>
<ellipse cx="1198.2" cy="561.1" rx="13.1" ry="9.5" fill="#5e5e5e" filter="url(#b3)"/>
<ellipse cx="1088" cy="700.4" rx="21" ry="12.1" fill="#808080" filter="url(#b4)"/>
<ellipse cx="1009.3" cy="700.4" rx="13.1" ry="10.5" fill="#808080" filter="url(#b3)"/>
<ellipse cx="1009.3" cy="662" rx="13.1" ry="6.8" fill="#808080" filter="url(#b3)"/>
<ellipse cx="1038.2" cy="682" rx="26.2" ry="18.4" fill="#909090" filter="url(#b4)"/>
<ellipse cx="1101.1" cy="666.2" rx="31.5" ry="15.8" fill="#909090" filter="url(#b4)"/>
<ellipse cx="1143.1" cy="679.4" rx="28.9" ry="28.9" fill="#9e9e9e" filter="url(#b5)"/>
<path d="M1095.9 726.7 1179.8 721.4 1269 716.2" fill="none" stroke="#9e9e9e" stroke-width="26" stroke-linecap="round" stroke-linejoin="round" filter="url(#u5)"/>
<ellipse cx="1237.5" cy="762.5" rx="60.3" ry="11.6" fill="#a1a1a1" filter="url(#b4)"/>
<ellipse cx="1046" cy="763.5" rx="44.6" ry="14.7" fill="#808080" filter="url(#b4)"/>
<ellipse cx="1052.3" cy="768.8" rx="11.5" ry="6.8" fill="#727272" filter="url(#b3)"/>
<ellipse cx="1135.2" cy="779.3" rx="11.5" ry="5.3" fill="#808080" filter="url(#b3)"/>
<ellipse cx="1032.9" cy="800.3" rx="52.5" ry="18.4" fill="#a1a1a1" filter="url(#b5)"/>
<ellipse cx="1001.4" cy="789.8" rx="13.1" ry="10.5" fill="#b9b9b9" filter="url(#b3)"/>
<ellipse cx="1040.8" cy="800.3" rx="15.7" ry="9.5" fill="#bcbcbc" filter="url(#b3)"/>
<ellipse cx="1101.1" cy="787.2" rx="23.6" ry="13.1" fill="#a4a4a4" filter="url(#b4)"/>
<ellipse cx="1216.5" cy="795.1" rx="68.2" ry="21" fill="#808080" filter="url(#b4)"/>
<ellipse cx="1219.1" cy="795.1" rx="52.5" ry="14.2" fill="#6d6d6d" filter="url(#b4)"/>
<ellipse cx="1287.3" cy="621.5" rx="70.8" ry="44.7" fill="#808080" filter="url(#b5)"/>
<path d="M1258.5 626.8 1284.7 612.1 1305.7 607.3 1326.7 612.1 1352.9 621.5 1368.6 625.2" fill="none" stroke="#6b6b6b" stroke-width="27" stroke-linecap="round" stroke-linejoin="round" filter="url(#u4)"/>
<path d="M1271.6 618.9 1290 609.4 1305.7 606.8 1329.3 612.6" fill="none" stroke="#3c3c3c" stroke-width="13" stroke-linecap="round" stroke-linejoin="round" filter="url(#u3_5)"/>
<ellipse cx="1355.5" cy="625.7" rx="19.9" ry="11.6" fill="#5e5e5e" filter="url(#b3)"/>
<ellipse cx="1279.5" cy="655.7" rx="25.2" ry="14.7" fill="#6b6b6b" filter="url(#b4)"/>
<ellipse cx="1342.4" cy="571.6" rx="73.4" ry="34.2" fill="#9e9e9e" filter="url(#b5)"/>
<ellipse cx="1335.1" cy="559.5" rx="10.5" ry="7.9" fill="#b5b5b5" filter="url(#b3)"/>
<path d="M1310.9 579.5 1335.1 590 1345 592.6" fill="none" stroke="#b2b2b2" stroke-width="8" stroke-linecap="round" stroke-linejoin="round" filter="url(#u3)"/>
<ellipse cx="1335.1" cy="589.5" rx="9.4" ry="6.3" fill="#bfbfbf" filter="url(#b2_5)"/>
<ellipse cx="1388.6" cy="570" rx="13.1" ry="7.9" fill="#aeaeae" filter="url(#b3)"/>
<ellipse cx="1279.5" cy="560" rx="11.5" ry="5.3" fill="#7c7c7c" filter="url(#b2_5)"/>
<ellipse cx="1389.6" cy="603.1" rx="18.4" ry="10.5" fill="#808080" filter="url(#b3)"/>
<ellipse cx="1361.8" cy="702" rx="13.1" ry="7.9" fill="#808080" filter="url(#b3)"/>
<ellipse cx="1400.1" cy="665.2" rx="34.1" ry="13.1" fill="#9f9f9f" filter="url(#b4)"/>
<ellipse cx="1410.6" cy="611" rx="13.1" ry="7.9" fill="#979797" filter="url(#b3)"/>
<path d="M1174.6 716.2 1232.3 718.8 1279.5 712.5 1314.6 730.4 1344 748.3 1386 739.3 1405.4 724.1" fill="none" stroke="#a1a1a1" stroke-width="30" stroke-linecap="round" stroke-linejoin="round" filter="url(#u5)"/>
<path d="M1269 710.9 1295.2 716.2 1314.6 730.4 1344 749.3 1363.4 747.7 1386 739.3 1403.8 724.1" fill="none" stroke="#b9b9b9" stroke-width="10" stroke-linecap="round" stroke-linejoin="round" filter="url(#u4)"/>
<ellipse cx="1329.3" cy="774" rx="18.4" ry="16.8" fill="#8d8d8d" filter="url(#b4)"/>
<ellipse cx="1290" cy="751.4" rx="36.7" ry="5.3" fill="#929292" filter="url(#b3)"/>
<ellipse cx="1373.9" cy="795.1" rx="73.4" ry="21" fill="#a1a1a1" filter="url(#b5)"/>
<ellipse cx="1394.9" cy="800.8" rx="21" ry="9.5" fill="#b9b9b9" filter="url(#b3)"/>
<ellipse cx="1494.5" cy="571.6" rx="78.7" ry="42.1" transform="rotate(-15 1494.5 571.6)" fill="#808080" filter="url(#b5)"/>
<ellipse cx="1494.5" cy="571.6" rx="62.9" ry="28.9" transform="rotate(-18 1494.5 571.6)" fill="#6b6b6b" filter="url(#b4)"/>
<ellipse cx="1497.2" cy="571.6" rx="42" ry="17.4" transform="rotate(-20 1497.2 571.6)" fill="#515151" filter="url(#b4)"/>
<ellipse cx="1499.8" cy="571.6" rx="26.2" ry="10.5" transform="rotate(-20 1499.8 571.6)" fill="#464646" filter="url(#b3)"/>
<path d="M1450 633.1 1520.8 632.1 1573.2 616.3 1604.7 597.9" fill="none" stroke="#9e9e9e" stroke-width="50" stroke-linecap="round" stroke-linejoin="round" filter="url(#u5)"/>
<ellipse cx="1534.9" cy="620.5" rx="18.4" ry="7.9" fill="#a8a8a8" filter="url(#b3)"/>
<ellipse cx="1469.9" cy="647.3" rx="15.7" ry="7.9" fill="#a4a4a4" filter="url(#b3)"/>
<ellipse cx="1589" cy="595.3" rx="15.7" ry="13.1" transform="rotate(-20 1589 595.3)" fill="#adadad" filter="url(#b3)"/>
<ellipse cx="1587.9" cy="613.7" rx="13.1" ry="7.9" fill="#a6a6a6" filter="url(#b3)"/>
<ellipse cx="1612.6" cy="566.3" rx="44.6" ry="31.5" fill="#909090" filter="url(#b4)"/>
<ellipse cx="1636.2" cy="559.5" rx="6.8" ry="4.2" fill="#979797" filter="url(#b2)"/>
<ellipse cx="1636.2" cy="608.4" rx="23.6" ry="31.5" fill="#8b8b8b" filter="url(#b4)"/>
<ellipse cx="1678.1" cy="578.4" rx="18.4" ry="12.1" fill="#6f6f6f" filter="url(#b3)"/>
<ellipse cx="1701.7" cy="613.7" rx="28.9" ry="26.3" fill="#6a6a6a" filter="url(#b4)"/>
<ellipse cx="1678.1" cy="653.1" rx="62.9" ry="13.1" fill="#727272" filter="url(#b3)"/>
<ellipse cx="1454.7" cy="682.5" rx="9.4" ry="7.9" fill="#727272" filter="url(#b2_5)"/>
<ellipse cx="1508.2" cy="679.9" rx="7.9" ry="7.9" fill="#727272" filter="url(#b2_5)"/>
<ellipse cx="1499.8" cy="704.1" rx="36.7" ry="7.9" fill="#727272" filter="url(#b3)"/>
<path d="M1536.5 682 1573.2 695.2 1651.9 698.8 1746.3 697.8" fill="none" stroke="#686868" stroke-width="36" stroke-linecap="round" stroke-linejoin="round" filter="url(#u5)"/>
<path d="M1568 695.2 1625.7 700.4 1746.3 700.4" fill="none" stroke="#515151" stroke-width="20" stroke-linecap="round" stroke-linejoin="round" filter="url(#u4)"/>
<ellipse cx="1738.5" cy="703" rx="36.7" ry="23.7" fill="#282828" filter="url(#b5)"/>
<path d="M1442.1 721.4 1520.8 722.5 1578.5 729.3" fill="none" stroke="#909090" stroke-width="14" stroke-linecap="round" stroke-linejoin="round" filter="url(#u3)"/>
<ellipse cx="1672.9" cy="731.4" rx="62.9" ry="9.5" fill="#a1a1a1" filter="url(#b3_5)"/>
<ellipse cx="1683.4" cy="730.9" rx="42" ry="4.7" fill="#bcbcbc" filter="url(#b2_5)"/>
<ellipse cx="1591.6" cy="742.5" rx="16.8" ry="12.1" fill="#808080" filter="url(#b3)"/>
<path d="M1583.7 745.1 1609.9 747.7 1746.3 742.5 1746.3 802.9 1625.7 802.9 1573.2 792.4 1562.7 818.7 1536.5 818.7 1552.2 781.9 1578.5 766.1Z" fill="#808080" filter="url(#b4)"/>
<path d="M1609.9 753 1746.3 747.7 1746.3 787.2 1625.7 787.2 1586.3 784.5 1591.6 766.1Z" fill="#616161" filter="url(#b4)"/>
<ellipse cx="1683.4" cy="761.9" rx="57.7" ry="14.7" fill="#464646" filter="url(#b4)"/>
<ellipse cx="1560.1" cy="805.6" rx="21" ry="15.8" fill="#5e5e5e" filter="url(#b4)"/>
<ellipse cx="1617.8" cy="805.6" rx="15.7" ry="7.9" fill="#909090" filter="url(#b3)"/>
<ellipse cx="1473.6" cy="760.9" rx="62.9" ry="44.7" transform="rotate(15 1473.6 760.9)" fill="#a1a1a1" filter="url(#b6)"/>
<ellipse cx="1473.6" cy="758.2" rx="44.6" ry="28.9" transform="rotate(20 1473.6 758.2)" fill="#b9b9b9" filter="url(#b5)"/>
<ellipse cx="1468.3" cy="753" rx="26.2" ry="18.4" transform="rotate(20 1468.3 753)" fill="#d0d0d0" filter="url(#b4)"/>
<ellipse cx="1505" cy="778.2" rx="21" ry="10.5" transform="rotate(15 1505 778.2)" fill="#c6c6c6" filter="url(#b4)"/>
<ellipse cx="1568" cy="779.3" rx="21" ry="9.5" fill="#9a9a9a" filter="url(#b3)"/>
<ellipse cx="1476.2" cy="805.6" rx="21" ry="6.8" fill="#808080" filter="url(#b3)"/>
<ellipse cx="1242.7" cy="611.6" rx="21" ry="6.8" fill="#a1a1a1" filter="url(#b2_5)"/>
<ellipse cx="1242.7" cy="611.6" rx="14.7" ry="3.7" fill="#c6c6c6" filter="url(#b2)"/>
<ellipse cx="1179.8" cy="713.6" rx="15.7" ry="9.5" fill="#b5b5b5" filter="url(#b3)"/>
<ellipse cx="1132.6" cy="726.7" rx="36.7" ry="7.9" fill="#a4a4a4" filter="url(#b3)"/>
<ellipse cx="1164.1" cy="689.9" rx="15.7" ry="10.5" fill="#a4a4a4" filter="url(#b3)"/>
<ellipse cx="1227" cy="721.4" rx="26.2" ry="7.9" fill="#a8a8a8" filter="url(#b3)"/>
<ellipse cx="1310.9" cy="763.5" rx="31.5" ry="6.8" fill="#a4a4a4" filter="url(#b3)"/>
<ellipse cx="1431.6" cy="776.7" rx="15.7" ry="10.5" fill="#a8a8a8" filter="url(#b3)"/>
</g></g>
<g clip-path="url(#clipc)"><path d="M755.4 567.4 775.9 571.1 802.1 562.1 838.8 560 844.1 579.5 865.1 585.8 891.3 593.7 917.5 589.5 938.5 593.1 955.8 591 965.8 591 957.4 598.4 963.7 612.6 972.6 630 981.5 645.2 982.6 656.8 993.6 674.1 1013 689.4 1011.9 695.2 1019.8 700.9 1038.2 696.7 1055 693.6 1052.9 705.7 1043.4 726.7 1027.7 744.1 1009.3 760.9 997.2 770.3 992.5 780.3 990.4 789.8 993.6 797.7 995.2 808.2 998.3 813.5M755.4 565.8 752.8 561.6 739.7 561.1 740.2 552.7 736.5 551.6 740.2 540 738.1 529 744.4 525.8 766.4 526.9 776.9 527.4 780.1 520.6 780.1 513.2 774.8 507.4 762.8 503.8 761.7 500.6 778 499.6 776.9 494.3 786.9 495.3 794.8 488.5 803.2 485.4 808.9 481.2 812.6 475.4 824.1 473.8 831.5 472.2 829.9 466.4 828.9 456.4 836.2 454.9 842 452.2 840.4 458.5 837.8 466.4 843 471.7 851.9 469.6 860.9 472.2 872.9 469.1 883.4 467.5 890.2 469.6 896.5 465.4 897.1 456.4 904.9 452.2 913.3 455.4 914.4 448.6 909.6 444.3 920.1 442.8 933.3 442.8 944.8 440.7 935.9 437.5 917.5 439.1 906.5 440.7 898.1 435.9 899.2 427 914.9 414.9 919.1 411.7 902.8 410.2 898.1 417 879.7 427 876.6 434.9 883.9 439.6 875.5 447 872.9 455.9 869.8 460.6 861.4 463.3 854 464.3 852.5 460.1 845.1 448 842 444.3 836.2 446.4 828.3 450.1 815.7 446.4 813.1 437.5 812.6 430.1 823.1 425.4 831 421.7 842 417 851.9 408.6 860.9 399.1 872.9 393.9 886 388.6 901.8 386 921.2 381.8 933.3 382.8 949 386 943.7 389.1 959.5 391.2 975.2 392.3 998.8 399.1 1002.5 404.4 988.3 408.1 967.3 405.4 959.5 405.4 968.9 413.8 969.4 417 983.1 420.2 985.7 417 996.2 415.4 996.2 409.1 1009.3 406.5 1017.2 408.1 1018.2 396.5 1027.7 397.6 1030.3 404.4 1048.7 398.1 1069.6 396.5 1085.4 394.9 1101.1 393.9 1132.6 392.8 1143.1 384.9 1140.5 372.8 1156.2 370.7 1169.3 379.7 1171.9 395.4 1164.1 406 1174.6 400.7 1179.8 379.7 1195.5 376 1208.7 369.2 1240.1 367.1 1242.7 360.2 1284.7 355.5 1310.9 353.4 1333.5 347.1 1347.7 350.8 1379.1 355 1381.8 367.6 1352.9 370.2 1363.4 367.1 1405.4 370.7 1434.2 370.7 1452.6 374.4 1465.7 382.3 1473.6 383.4 1484.1 379.7 1505 380.2 1520.8 372.8 1552.2 374.9 1573.2 379.7 1583.7 382.8 1615.2 382.8 1625.7 389.1 1630.9 391.8 1662.4 389.7 1678.1 388.1 1680.8 393.9 1709.6 389.1 1730.6 393.3 1746.3 397 1772.6 403.3 1783.1 408.6 1767.3 411.2 1751.6 411.7 1735.8 407.5 1725.4 414.9 1717.5 415.4 1722.7 421.7 1728 427 1704.4 430.7 1680.8 440.1 1657.2 440.7 1643 445.4 1640.9 451.7 1643 460.1 1636.2 466.4 1625.7 475.9 1617.8 477.5 1608.4 487.5 1603.1 479.6 1602.1 465.4 1604.7 455.9 1615.2 450.1 1625.7 442.8 1633.6 438 1625.7 434.9 1609.9 431.7 1599.5 442.8 1583.7 445.4 1568 442.2 1536.5 443.8 1523.4 451.7 1507.7 469.1 1512.9 472.7 1527.6 475.9 1523.4 487.5 1521.8 500.6 1512.9 510.1 1499.8 521.1 1484.6 530.6 1478.3 528.5 1472 533.2 1466.7 537.4 1465.2 545.3 1455.2 547.4 1459.9 553.2 1465.2 561.1 1465.2 568.4 1460.4 571.6 1450 574.7 1449.4 568.4 1451 561.6 1448.9 556.9 1443.1 555.3 1443.1 547.9 1438.4 545.8 1426.3 542.7 1422.2 551.6 1426.9 545.8 1421.1 541.1 1410.6 549.5 1404.3 550.6 1403.8 555.3 1410.6 558.4 1420.1 556.9 1429 560 1421.1 563.7 1412.2 571.1 1415.3 574.7 1420.6 584.2 1425.8 590.5 1425.8 593.1 1420.1 596.8 1426.3 598.4 1423.7 605.8 1418.5 612.6 1413.8 620.5 1406.4 626.8 1400.1 632.6 1393.8 635.7 1385.4 638.4 1380.7 639.4 1373.9 641.5 1366.5 644.2 1365.5 648.9 1362.4 643.1 1355.5 641.5 1347.7 645.2 1345.6 649.4 1341.4 655.7 1346.6 665.2 1354.5 671.5 1359.2 683.1 1359.2 693.6 1352.9 698.3 1346.6 700.9 1345.6 705.7 1338.2 709.9 1336.6 703.6 1333.5 700.4 1326.7 696.7 1323 691.5 1316.2 688.8 1315.7 684.6 1311.5 685.2 1310.4 695.2 1306.7 702 1307.3 707.2 1312.5 712.5 1314.1 718.3 1320.4 721.4 1324.1 725.1 1328.8 731.4 1329.3 740.9 1333 748.3 1329.3 748.8 1317.8 740.9 1313 727.2 1312 721.4 1302 713 1303.6 704.1 1304.1 693.6 1303.1 684.6 1298.9 675.2 1298.9 668.9 1294.2 666.2 1286.8 672.5 1281 671 1282.1 661 1277.4 652 1270.6 646.3 1267.9 638.4 1262.7 636.8 1260.1 640.5 1252.7 641.5 1249 641 1242.7 642.6 1241.7 648.4 1233.3 652 1224.4 661 1218.1 668.3 1207.6 673.1 1206.6 684.6 1205.5 692.5 1205 701.5 1201.3 706.7 1196.6 708.8 1192.9 713 1187.7 707.2 1184 695.2 1178.8 687.3 1177.2 679.4 1171.9 668.9 1168.3 655.7 1168.3 646.3 1167.2 644.2 1164.6 644.2 1158.3 646.8 1149.4 638.4 1155.1 635.2 1146.8 632.1 1140.5 630 1139.4 625.2 1135.7 622.1 1124.7 623.1 1109.5 623.1 1095.9 622.1 1087 621 1084.3 613.1 1073.3 615.8 1066.5 614.2 1056.5 608.9 1049.7 597.4 1042.9 595.8 1038.2 598.9 1038.7 604.7 1042.9 610.5 1049.7 615.2 1048.7 619.4 1053.9 624.2 1057.1 619.4 1055.5 626.8 1058.1 629.4 1069.6 628.4 1080.1 618.4 1082.2 624.7 1085.4 629.4 1094.3 632.1 1100.1 637.3 1094.8 646.8 1089 655.7 1085.4 656.2 1076.5 663.6 1060.7 670.4 1043.4 680.4 1022.4 688.3 1014.6 688.8 1010.9 677.3 1009.8 668.9 1001.4 655.2 991.5 642.6 988.3 631 981.5 623.1 973.1 611.6 970 607.9 969.4 600.5 966.3 608.4 961.1 605.2 957.4 598.4M938.5 539 951.6 538.5 962.1 534.8 971 534.8 977.8 538.5 988.3 540.6 1004.1 537.4 1004.1 531.1 994.6 526.9 985.7 522.2 982 517.4 978.4 516.9 972.1 519 963.2 522.2 956.9 517.4 962.6 513.2 951.6 510.6 944.8 514.8 941.6 518 936.4 525.3 932.7 530.1 933.3 535.3 938.5 539M1043.4 511.1 1053.9 508.5 1064.4 509.5 1064.4 517.4 1055 521.6 1050.2 522.7 1055.5 528.5 1061.8 530.6 1062.8 538.5 1069.6 538.5 1064.4 545.3 1069.1 550.6 1068.6 561.1 1059.1 562.1 1050.2 559 1043.4 553.7 1045 543.7 1040.8 535.8 1035 529.5 1031.3 521.6 1035.5 515.9 1043.4 511.1M1469.4 579 1477.2 579 1478.8 583.2 1475.7 590.5 1471.5 591.6 1469.4 586.3 1466.7 582.1 1469.4 579M1473 576.8 1481.4 575.3 1491.9 573.2 1495.6 574.2 1495.6 579 1499.8 579.5 1504.5 574.2 1511.3 573.7 1514.5 572.6 1519.7 571.6 1520.8 569.5 1525.5 567.9 1526 561.1 1526 554.2 1531.3 547.9 1528.6 538.5 1522.3 539 1520.8 545.3 1519.7 551.6 1512.9 559.5 1505 560 1506.6 562.1 1503.5 562.7 1499.8 567.9 1494.5 567.9 1484.1 569 1478.8 572.1 1473 576.8M1480.9 579.5 1484.1 576.8 1492.4 575.8 1490.9 579 1485.1 582.1 1482 582.6 1480.9 579.5M1522.3 537.4 1520.8 532.2 1522.9 527.9 1529.2 516.9 1533.9 520.1 1548.6 523.2 1549.6 527.9 1538.1 534.8 1530.2 531.6 1526 534.8 1522.3 537.4M1421.1 624.2 1425.8 624.2 1423.7 632.1 1420.1 639.9 1416.9 634.7 1421.1 624.2M1356.6 654.7 1361.8 649.9 1368.6 651 1366 656.8 1360.8 659.9 1356.6 654.7M1205.5 704.6 1212.3 710.9 1215.5 717.8 1212.8 722.5 1207.1 724.1 1205 716.2 1205.5 704.6M1419 658.3 1427.4 658.9 1428.4 668.9 1424.3 674.1 1425.3 681 1436.8 687.3 1437.4 689.4 1431.6 683.6 1427.9 683.1 1420.6 683.1 1419 678.3 1416.4 676.8 1417.4 670.4 1417.4 663.6 1419 658.3M1426.3 718.8 1434.2 710.4 1443.7 704.1 1448.9 710.9 1449.4 721.4 1444.7 725.6 1443.7 719.9 1436.8 722.5 1437.4 716.2 1431.6 716.2 1426.3 718.8M1442.1 689.9 1445.8 696.7 1442.1 697.8 1438.4 690.4 1442.1 689.9M1426.3 693.6 1432.1 695.2 1433.2 703.6 1429 705.7 1426.3 700.4 1426.3 693.6M1401.2 711.5 1413.2 696.2 1411.7 702 1404.3 709.9 1401.2 711.5M1358.7 749.3 1362.4 745.6 1368.6 747.2 1370.7 741.9 1379.1 738.8 1385.4 731.4 1392.3 726.7 1398.5 719.3 1403.8 722.5 1411.7 728.3 1405.4 733 1403.8 738.8 1410.1 750.4 1404.3 751.4 1402.7 759.8 1396.4 764.6 1396.4 772.4 1394.3 775.1 1387.5 777.2 1382.3 773.5 1372.8 774 1364.4 770.9 1363.9 764 1359.2 758.2 1358.7 749.3M1286.3 726.2 1297.8 728.3 1303.6 735.6 1313 743.5 1319.9 745.1 1327.2 753 1330.9 760.9 1335.1 765.6 1342.4 771.4 1341.9 786.1 1335.1 786.1 1323 776.7 1315.1 767.2 1306.7 754.6 1301.5 745.1 1292.6 736.2 1286.3 726.2M1338.2 791.4 1346.1 787.2 1355.5 790.3 1367.6 789.3 1377.6 791.9 1387 796.6 1386.5 800.8 1373.9 799.3 1358.2 796.6 1345 794.5 1338.2 791.4M1389.6 799.3 1393.3 800.8 1390.7 801.9 1389.6 799.3M1394.9 799.8 1398.5 801.9 1395.9 802.4 1394.9 799.8M1400.1 799.8 1410.6 800.8 1405.4 802.4 1400.1 799.8M1415.3 800.3 1431.1 799.3 1426.3 802.4 1415.3 800.3M1434.7 809.8 1452.6 799.8 1442.1 804.5 1434.7 809.8M1414.8 751.4 1420.6 748.8 1432.6 750.9 1442.1 747.2 1438.4 753.5 1422.7 753 1416.9 760.4 1423.7 760.4 1433.2 760.4 1425.3 765.6 1430.5 776.7 1427.9 783 1423.7 780.3 1420.6 770.3 1418 784.5 1413.2 784 1413.2 774 1410.1 769.8 1414.8 751.4M1455.2 746.2 1457.8 753 1461 747.7 1457.3 744.6 1455.2 746.2M1448.4 772.4 1453.6 773 1451.5 775.6 1448.4 772.4M1457.8 771.4 1472.5 773.5 1465.7 774 1457.8 771.4M1473.6 759.8 1481.4 757.7 1489.8 759.8 1491.9 768.8 1497.2 773 1509.2 763.5 1526 769.3 1544.4 775.6 1551.2 783.5 1560.1 787.2 1561.7 790.8 1557.5 791.4 1557 794.5 1564.3 800.8 1573.2 809.3 1577.4 811.9M1560.1 809.3 1552.2 802.4 1544.9 795.6 1536.5 799.3 1538.1 802.9 1526 803.5 1515.5 798.2 1510.3 799.8 1514.5 793.5 1510.8 785.6 1499.3 779.3 1487.7 776.1 1483.5 777.2 1478.8 770.9 1487.2 768.8 1480.4 767.7 1473.6 763.5 1473.6 759.8M1564.3 785.6 1573.2 781.9 1583.7 777.7 1585.3 781.9 1578.5 787.2 1570.6 788.2 1564.3 785.6M1597.9 784.5 1604.2 791.4 1600.5 789.8 1597.9 784.5M1609.9 794 1624.6 799.8 1617.8 797.7 1609.9 794M1625.7 805.6 1633.6 808.2 1628.3 807.7 1625.7 805.6M1067 689.9 1072.3 689.4 1069.6 690.9 1067 689.9" fill="none" stroke="#444" stroke-width="0.6"/></g>
<g clip-path="url(#clipc)"><path d="M1096.1 547.7h0M1514.8 556.6h0M1096.1 565.6h0M1505.9 565.6h0M1051.5 574.5h0M1105 574.5h0M1265.3 574.5h0M1497 574.5h0M1514.8 574.5h0M1042.6 583.4h0M1060.4 583.4h0M1470.3 583.4h0M1488.1 583.4h0M1051.5 592.4h0M1336.6 592.4h0M1586.1 592.4h0M1007 601.3h0M998 610.3h0M1015.9 610.3h0M1033.7 610.3h0M1586.1 610.3h0M1007 619.2h0M1024.8 619.2h0M1042.6 619.2h0M1185.2 619.2h0M1203 619.2h0M1541.6 619.2h0M1577.2 619.2h0M1595 619.2h0M998 628.1h0M1015.9 628.1h0M1033.7 628.1h0M1176.2 628.1h0M1194.1 628.1h0M1211.9 628.1h0M1532.6 628.1h0M1586.1 628.1h0M1007 637.1h0M1024.8 637.1h0M1185.2 637.1h0M1203 637.1h0M1523.7 637.1h0M1541.6 637.1h0M1194.1 646h0M1211.9 646h0M1461.4 646h0M1479.2 646h0M1381.2 655h0M1399 655h0M1416.8 655h0M1470.3 655h0M1372.3 663.9h0M1390.1 663.9h0M1407.9 663.9h0M1425.7 663.9h0M1363.4 672.8h0M1381.2 672.8h0M1399 672.8h0M1416.8 672.8h0M1211.9 681.8h0M1354.4 681.8h0M1372.3 681.8h0M1390.1 681.8h0M1407.9 681.8h0M1425.7 681.8h0M1657.4 681.8h0M1710.8 681.8h0M1728.7 681.8h0M1203 690.7h0M1220.8 690.7h0M1648.5 690.7h0M1666.3 690.7h0M1684.1 690.7h0M1701.9 690.7h0M1719.8 690.7h0M1194.1 699.7h0M1211.9 699.7h0M1603.9 699.7h0M1693 699.7h0M1710.8 699.7h0M1728.7 699.7h0M1185.2 708.6h0M1203 708.6h0M1220.8 708.6h0M1274.3 708.6h0M1292.1 708.6h0M1309.9 708.6h0M1701.9 708.6h0M1719.8 708.6h0M1176.2 717.5h0M1283.2 717.5h0M1301 717.5h0M1318.8 717.5h0M1292.1 726.5h0M1309.9 726.5h0M1327.7 726.5h0M1381.2 726.5h0M1399 726.5h0M1318.8 735.4h0M1336.6 735.4h0M1372.3 735.4h0M1390.1 735.4h0M1443.5 735.4h0M1461.4 735.4h0M1479.2 735.4h0M1327.7 744.4h0M1345.5 744.4h0M1363.4 744.4h0M1381.2 744.4h0M1452.5 744.4h0M1470.3 744.4h0M1488.1 744.4h0M1211.9 753.3h0M1229.7 753.3h0M1247.5 753.3h0M1336.6 753.3h0M1354.4 753.3h0M1372.3 753.3h0M1443.5 753.3h0M1461.4 753.3h0M1479.2 753.3h0M1497 753.3h0M1203 762.2h0M1220.8 762.2h0M1238.6 762.2h0M1256.4 762.2h0M1452.5 762.2h0M1470.3 762.2h0M1488.1 762.2h0M1505.9 762.2h0M1461.4 771.2h0M1479.2 771.2h0M1497 771.2h0M1514.8 771.2h0M1470.3 780.1h0M1488.1 780.1h0M1505.9 780.1h0M1523.7 780.1h0M998 789.1h0M1479.2 789.1h0M1497 789.1h0M1514.8 789.1h0M1007 798h0M1042.6 798h0" stroke="#9070db" stroke-width="4.4" stroke-linecap="round" fill="none"/></g>
<g clip-path="url(#clipc)"><path class="as" stroke-width="2.9" d="M1003.9 563.9L992.6 560.9M995.1 562.7L992.6 560.9L995.7 560.5M1032.6 560.4L1012.5 563M1017.8 564.3L1012.5 563L1017.3 560.4M1057.6 562.4L1040.2 560.4M1044.4 562.6L1040.2 560.4L1044.7 559.2M1242 543L1197.4 561.2M1210.4 560.9L1197.4 561.2L1206.8 552.3M1082 583.8L1067.8 578.5M1070.9 581.3L1067.8 578.5L1071.9 578.5M1108.9 593.7L1093.8 608.8M1099.1 606.4L1093.8 608.8L1096.2 603.5M1081.7 602.3L1068.1 599.7M1071.3 601.7L1068.1 599.7L1071.8 599M1024.6 605L1019.5 598.2M1020.2 600.7L1019.5 598.2L1021.7 599.6M1045.2 605.7L1052.3 596.7M1049.6 598.3L1052.3 596.7L1051.3 599.7M1000.9 605.3L994.1 600.5M995.5 602.6L994.1 600.5L996.6 601.1M1012.2 626.2L1005.4 615.6M1006.1 618.9L1005.4 615.6L1008.1 617.6M1038.2 631L1032.6 610.7M1032.1 616.4L1032.6 610.7L1036 615.3M1072.7 618.6L1077.5 623.9M1076.6 621.5L1077.5 623.9L1075.2 622.7M1162.6 597.7L1171.2 604.2M1169.7 601.8L1171.2 604.2L1168.4 603.4M1188.3 597.1L1198.1 605.3M1196.4 602.3L1198.1 605.3L1194.9 604.2M1214.7 608.3L1223.8 614.4M1222.1 612L1223.8 614.4L1220.9 613.7M1135.4 610.3L1146 612.2M1143.5 610.7L1146 612.2L1143.1 612.8M1108.9 622.4L1120.3 619.8M1117.2 619.4L1120.3 619.8L1117.7 621.6M1160 617.4L1173.9 624.9M1171.2 621.7L1173.9 624.9L1169.7 624.4M1185.3 615.6L1204.9 626.5M1201 621.8L1204.9 626.5L1198.9 625.6M1133.9 630.4L1147.5 632.5M1144.3 630.7L1147.5 632.5L1143.9 633.3M1226.1 626.9L1238.2 636M1236 632.5L1238.2 636L1234.2 634.9M1175.4 637.9L1184.5 644.6M1182.9 642L1184.5 644.6L1181.6 643.8M1199.6 634.5L1212.9 647.6M1210.9 643L1212.9 647.6L1208.3 645.6M1084 640.5L1092.6 641M1090.2 639.9L1092.6 641L1090.1 641.8M1109.2 642.8L1119.8 639M1116.8 638.9L1119.8 639L1117.5 641M997.1 639.8L1004.6 635.5M1002.1 635.9L1004.6 635.5L1003 637.5M1018 653.4L1027 629.2M1022.4 634.4L1027 629.2L1027.1 636.2M1047 652.6L1048.8 631.4M1046.3 636.6L1048.8 631.4L1050.4 637M1151 646.6L1156.6 656.1M1156.1 653.1L1156.6 656.1L1154.2 654.2M1224.6 646.6L1237.4 654.1M1234.9 651L1237.4 654.1L1233.4 653.5M1177.7 657.9L1181.5 664.2M1181.1 661.7L1181.5 664.2L1179.5 662.6M1198.9 657.1L1213.5 664.7M1210.6 661.4L1213.5 664.7L1209.1 664.2M1075.4 666.7L1074.9 655.6M1074 658.5L1074.9 655.6L1076.1 658.4M1017.5 676.8L1025.8 648.1M1020.9 654.5L1025.8 648.1L1026.5 656.1M1045.5 676.8L1050.3 648.8M1046.4 655.4L1050.3 648.8L1051.8 656.3M1160.3 667.3L1147.5 674.5M1151.4 673.9L1147.5 674.5L1150 671.5M996.3 664.7L1000.9 673.8M1000.6 671L1000.9 673.8L998.9 671.9M1329.6 549.8L1345.2 552.8M1341.5 550.6L1345.2 552.8L1340.9 553.6M1340.2 608L1335 614.8M1337.2 613.4L1335 614.8L1335.8 612.3M1274.1 628.4L1269.1 634M1271.4 632.8L1269.1 634L1270.1 631.6M1300.3 638.5L1296 644M1298.3 642.6L1296 644L1296.8 641.5M1264.6 660.6L1278.2 661.2M1274.8 659.8L1278.2 661.2L1274.7 662.4M1320.5 659.4L1327.5 662.4M1325.6 660.6L1327.5 662.4L1324.9 662.3M1238.6 669.2L1251.9 673M1248.9 670.8L1251.9 673L1248.2 673.3M1429.4 656.4L1429.4 665.5M1430.3 663L1429.4 665.5L1428.4 663M1457.8 657.1L1453.5 665.2M1455.5 663.4L1453.5 665.2L1453.8 662.6M1490.9 552.3L1472.7 550.5M1477.1 552.7L1472.7 550.5L1477.5 549.2M1518.2 553.1L1497.7 549.6M1502.5 552.4L1497.7 549.6L1503.2 548.5M1544.5 553.9L1523.3 548.9M1528.2 552.2L1523.3 548.9L1529.1 548.1M1477 594.8L1486.6 588.1M1483.5 588.9L1486.6 588.1L1484.8 590.7M1566.1 608.2L1554.8 614.8M1558.3 614.3L1554.8 614.8L1557 612.1M1540.3 628.3L1528 634.4M1531.7 634.1L1528 634.4L1530.5 631.7M1565.6 628.3L1555.3 634.4M1558.5 633.9L1555.3 634.4L1557.3 631.9M1591.2 628.3L1582.3 634.9M1585.2 634.1L1582.3 634.9L1583.9 632.4M1538.8 647.2L1529.5 655M1532.6 653.9L1529.5 655L1531.1 652.1M1563.8 647.7L1556.8 655M1559.3 653.8L1556.8 655L1557.9 652.5M1589.2 648L1584.1 655M1586.3 653.5L1584.1 655L1584.8 652.4M1614.4 648.3L1611.3 654.2M1613.2 652.5L1611.3 654.2L1611.6 651.6M1485.1 658L1477.7 664.7M1480.2 663.7L1477.7 664.7L1478.9 662.3M1511.6 658L1503.9 664.7M1506.5 663.7L1503.9 664.7L1505.2 662.3M1536.3 667.3L1532.1 674.2M1534.2 672.6L1532.1 674.2L1532.6 671.7M1561 666.8L1560.4 675M1561.5 672.7L1560.4 675L1559.6 672.5M1586.6 667.3L1586.9 673.9M1587.7 671.5L1586.9 673.9L1585.9 671.5M1612.4 667.8L1613.4 673.9M1613.9 671.4L1613.4 673.9L1612.1 671.7M1028.7 688.8L1018.3 675.3M1019.6 679.7L1018.3 675.3L1022.2 677.7M1054 688.8L1044.5 675.3M1045.6 679.6L1044.5 675.3L1048.2 677.8M1006.4 689.6L996.1 680.9M997.9 684.1L996.1 680.9L999.6 682.1M1083.4 682.5L1066.7 679M1070.6 681.5L1066.7 679L1071.3 678.2M1112 679L1091 683.3M1096.7 684.2L1091 683.3L1095.9 680.1M1138.7 678L1116.4 683.7M1122.6 684.4L1116.4 683.7L1121.5 680.1M1173.9 693.3L1159.6 688.8M1162.8 691.3L1159.6 688.8L1163.6 688.5M1223.1 683.3L1215.2 678.5M1216.8 680.5L1215.2 678.5L1217.7 678.9M1016.7 703.9L1002.1 697.5M1005.2 700.6L1002.1 697.5L1006.4 697.7M1042.9 704.7L1028.7 697.5M1031.6 700.7L1028.7 697.5L1032.9 698M1074.7 703.9L1049.8 698M1055.5 701.9L1049.8 698L1056.6 697.1M1100.6 698.7L1075.5 703.4M1082.3 704.6L1075.5 703.4L1081.3 699.8M1125.5 698L1103.3 704.4M1109.5 704.9L1103.3 704.4L1108.2 700.6M1150.9 699.1L1130.7 703.1M1136.2 704L1130.7 703.1L1135.4 700.1M1186.9 713.4L1172.6 707.9M1175.7 710.6L1172.6 707.9L1176.8 707.9M1209.6 712.6L1202.1 708.7M1203.8 710.6L1202.1 708.7L1204.7 709M1004 721.3L988.2 720.6M992.1 722.3L988.2 720.6L992.3 719.2M1032.3 721.3L1013.3 720.6M1018 722.6L1013.3 720.6L1018.1 718.9M1059.3 720.6L1038.2 721.3M1043.6 723.2L1038.2 721.3L1043.4 719.1M1086.6 719.8L1063.6 722.5M1069.6 724L1063.6 722.5L1069.1 719.6M1113.3 719.3L1089 722.9M1095.4 724.4L1089 722.9L1094.7 719.7M1139.3 719.3L1115.5 722.5M1121.8 724L1115.5 722.5L1121.2 719.4M1165.6 720.9L1142.1 720.9M1148.1 723.1L1142.1 720.9L1148.1 718.6M1189.8 733.3L1170.4 728.5M1174.8 731.6L1170.4 728.5L1175.7 727.8M1213.9 733.6L1198.5 728.2M1201.9 731L1198.5 728.2L1202.9 728M1006.4 738L989.8 742.8M994.4 743.2L989.8 742.8L993.5 740M1032.3 737.7L1013.3 743.6M1018.6 743.9L1013.3 743.6L1017.5 740.2M1058.8 739.3L1039 742.5M1044.3 743.6L1039 742.5L1043.7 739.7M1086.6 738L1063.6 743.6M1069.9 744.4L1063.6 743.6L1068.8 739.9M1112.8 738.8L1089.8 743.1M1096 744.2L1089.8 743.1L1095.1 739.8M1138.7 739.6L1116.4 742.5M1122.3 743.9L1116.4 742.5L1121.8 739.6M1164.7 742L1143.4 739.3M1148.5 742L1143.4 739.3L1149 737.9M1189.4 753.9L1170.7 747.2M1174.8 750.7L1170.7 747.2L1176.1 747.1M1216.7 752.6L1196.1 748.3M1200.9 751.4L1196.1 748.3L1201.7 747.4M1000.1 755.2L994.5 761.8M996.8 760.6L994.5 761.8L995.4 759.4M1027.5 757.9L1017.5 763.7M1020.6 763.2L1017.5 763.7L1019.5 761.3M1055.6 757.9L1041.8 763.7M1045.9 763.6L1041.8 763.7L1044.7 760.9M1082.6 758.3L1067.5 763.4M1071.8 763.6L1067.5 763.4L1070.8 760.7M1108.8 758.7L1093.7 763.1M1098 763.4L1093.7 763.1L1097.1 760.5M1135 760.6L1119.9 761M1123.8 762.4L1119.9 761L1123.7 759.5M1161.2 763.1L1146.1 758.7M1149.5 761.2L1146.1 758.7L1150.3 758.3M1199.3 772.1L1186.6 769M1189.5 771L1186.6 769L1190.1 768.5M1226.6 771L1212 769.8M1215.5 771.5L1212 769.8L1215.8 768.7M1022.3 776.9L1022.3 784.4M1023.2 781.9L1022.3 784.4L1021.4 781.9M1048.5 777.4L1048.5 784.4M1049.4 781.9L1048.5 784.4L1047.6 781.9M1075.2 777.4L1075.2 784.4M1076.1 781.9L1075.2 784.4L1074.2 781.9M1102.5 778.5L1100.6 782.8M1102.4 780.9L1100.6 782.8L1100.7 780.2M1140.6 783.3L1140.6 778M1139.6 780.4L1140.6 778L1141.5 780.4M1166 778L1167.9 783.3M1167.9 780.7L1167.9 783.3L1166.2 781.3M1234.5 703.1L1230.1 698.7M1231.1 701L1230.1 698.7L1232.5 699.7M1239.6 732.5L1225.8 728.8M1228.9 731.1L1225.8 728.8L1229.6 728.4M1244 752L1224.2 749.4M1229 752L1224.2 749.4L1229.5 748.2M1279.3 679L1290.4 682.8M1288 680.7L1290.4 682.8L1287.2 682.9M1305.6 679.6L1316.7 682.1M1314.2 680.4L1316.7 682.1L1313.7 682.6M1253.9 689.1L1263.4 692.8M1261.4 690.9L1263.4 692.8L1260.7 692.8M1332.6 688.8L1342.5 692.8M1340.4 690.8L1342.5 692.8L1339.6 692.7M1280.9 699.1L1288.2 702.8M1286.4 700.9L1288.2 702.8L1285.6 702.5M1306.7 698.3L1316.3 703.1M1314.3 701L1316.3 703.1L1313.4 702.8M1259.1 709.8L1256 712.6M1258.4 711.7L1256 712.6L1257.1 710.3M1289.3 719.8L1279.8 722.9M1282.5 723.1L1279.8 722.9L1281.9 721.2M1313.9 719.8L1307.9 722.5M1310.5 722.3L1307.9 722.5L1309.7 720.6M1336.1 707.1L1339 714.5M1339 711.9L1339 714.5L1337.2 712.6M1362.3 697.5L1365.5 704.7M1365.3 702.1L1365.5 704.7L1363.6 702.8M1388.5 697.5L1391.7 704.4M1391.5 701.8L1391.7 704.4L1389.8 702.6M1403.1 677.4L1403.1 684.8M1404 682.4L1403.1 684.8L1402.2 682.4M1429 675.3L1429.4 686.4M1430.4 683.6L1429.4 686.4L1428.2 683.7M1455.2 675.3L1456.7 685.6M1457.3 682.9L1456.7 685.6L1455.3 683.2M1413.6 696.4L1418.3 705.5M1418 702.7L1418.3 705.5L1416.3 703.7M1438.5 696.4L1446.4 706M1445.3 702.8L1446.4 706L1443.5 704.3M1461.8 696.4L1476.6 704.7M1473.7 701.2L1476.6 704.7L1472.1 704M1372.6 719L1381.3 723.4M1379.6 721.4L1381.3 723.4L1378.7 723.1M1394.5 717.4L1411.5 724M1407.9 720.7L1411.5 724L1406.6 724M1419.4 716.6L1439 724.5M1434.8 720.6L1439 724.5L1433.3 724.4M1442.8 717.7L1467.9 724M1462.1 720L1467.9 724L1460.9 724.9M1338 728.8L1336.9 732.5M1338.5 730.4L1336.9 732.5L1336.7 729.9M1265.5 731.7L1251.2 729.3M1254.6 731.3L1251.2 729.3L1255 728.5M1293.6 739.6L1276.6 742.5M1281.1 743.4L1276.6 742.5L1280.6 740.1M1316.3 739.3L1306.3 742.8M1309.1 742.9L1306.3 742.8L1308.5 740.9M1394.5 738.8L1411.5 742.5M1407.6 739.9L1411.5 742.5L1406.9 743.2M1417.4 738.8L1439.6 742.5M1434.4 739.4L1439.6 742.5L1433.6 743.7M1434.5 740.9L1474.2 740.9M1464.2 737L1474.2 740.9L1464.2 744.7M1270.2 752.6L1246.9 748.3M1252.4 751.7L1246.9 748.3L1253.2 747.2M1306.7 762.1L1290.4 758.7M1294.2 761.1L1290.4 758.7L1294.9 757.9M1327.4 762.1L1320.6 759M1322.4 760.8L1320.6 759L1323.1 759.1M1279.8 772.1L1263.9 769M1267.6 771.3L1263.9 769L1268.2 768.2M1252.8 772.1L1238 769M1241.4 771.2L1238 769L1242 768.3M1302.5 782.8L1293.6 778.5M1295.4 780.4L1293.6 778.5L1296.2 778.7M1327.9 783.3L1320.6 778M1322 780.2L1320.6 778L1323.1 778.7M1390.1 783.7L1389.3 776.9M1388.6 779.4L1389.3 776.9L1390.5 779.2M1411.5 783.7L1420.6 777.7M1417.7 778.3L1420.6 777.7L1418.9 780.1M1445.6 763.7L1464.7 758.7M1459.4 758.1L1464.7 758.7L1460.4 761.8M1448.8 782.8L1461.5 778.5M1457.9 778.3L1461.5 778.5L1458.7 780.8M1373.9 804.4L1379 797.1M1376.8 798.5L1379 797.1L1378.3 799.6M1399.6 805L1406.7 796.4M1404.1 797.9L1406.7 796.4L1405.8 799.3M1480.6 676.9L1483.3 684.8M1483.4 682.2L1483.3 684.8L1481.6 682.8M1507.1 676.9L1509.1 684.4M1509.4 681.8L1509.1 684.4L1507.6 682.3M1543.1 688L1551.5 694.4M1550 692L1551.5 694.4L1548.8 693.6M1569.4 688L1577.4 693.9M1575.9 691.6L1577.4 693.9L1574.8 693.2M1596 688.5L1603.4 693.6M1601.9 691.4L1603.4 693.6L1600.9 693M1486 697.1L1503.1 704.7M1499.5 701.1L1503.1 704.7L1498 704.4M1511.3 697.5L1530.4 704.7M1526.3 701L1530.4 704.7L1524.9 704.7M1696 703.4L1713.4 698M1708.5 697.7L1713.4 698L1709.5 701.1M1721.3 703.4L1739.6 698.7M1734.5 698.1L1739.6 698.7L1735.5 701.6M1542 707.5L1578.5 712.6M1569.8 707.8L1578.5 712.6L1568.8 714.9M1569.8 709.1L1604.7 712.3M1596.2 708.1L1604.7 712.3L1595.6 714.9M1596.7 710.2L1630.1 711.8M1621.8 708.2L1630.1 711.8L1621.5 714.7M1623.7 711L1654.7 710.7M1646.8 707.8L1654.7 710.7L1646.9 713.8M1465.8 718.7L1497.5 722.5M1489.9 718.4L1497.5 722.5L1489.2 724.6M1488 718.2L1524 723.4M1515.5 718.6L1524 723.4L1514.5 725.6M1511 717.7L1557.1 723.4M1546 717.5L1557.1 723.4L1544.9 726.4M1655.2 721.8L1701.5 719.8M1689.6 715.8L1701.5 719.8L1690 724.8M1687.2 720.9L1728.5 719.8M1718 716L1728.5 719.8L1718.2 724M1542.8 727.7L1603.1 732.9M1588.4 725.8L1603.1 732.9L1587.4 737.5M1566.6 727.2L1631.7 733.6M1616.5 726L1631.7 733.6L1615.3 738.1M1592 728.5L1657.9 733.3M1642.5 726L1657.9 733.3L1641.6 738.2M1623.7 729.3L1684 732.5M1669.2 725.8L1684 732.5L1668.5 737.5M1469.8 742.5L1515.8 740.4M1504 736.5L1515.8 740.4L1504.4 745.4M1504.7 740.4L1547.5 741.2M1536.8 736.8L1547.5 741.2L1536.7 745.1M1533.3 740.9L1576.9 741.5M1566 737.1L1576.9 741.5L1565.8 745.6M1656.3 742L1727.7 738.8M1711.6 733.4L1727.7 738.8L1712.1 745.6M1549.9 750.7L1617.4 751.5M1601.6 745.2L1617.4 751.5L1601.4 757.4M1572.9 748.3L1646 752.3M1630.4 745.4L1646 752.3L1629.8 757.5M1599.9 749.1L1676.1 752.6M1660.5 745.8L1676.1 752.6L1660 758M1631.7 750.7L1706.3 752M1690.5 745.6L1706.3 752L1690.3 757.8M1469.4 765.8L1493.9 755.8M1486.8 755.9L1493.9 755.8L1488.7 760.7M1490.1 765L1526.1 755.8M1516.1 754.6L1526.1 755.8L1517.9 761.6M1512.6 761.8L1557.1 758.3M1545.5 754.9L1557.1 758.3L1546.2 763.5M1534.8 761.8L1586.4 758.3M1573.1 754.2L1586.4 758.3L1573.8 764.2M1655.2 761L1728.5 759.9M1712.5 754.1L1728.5 759.9L1712.7 766.3M1563.4 774.5L1610.2 765.3M1597.5 763.1L1610.2 765.3L1599.3 772.2M1599.9 768.2L1639.6 769.8M1629.8 765.5L1639.6 769.8L1629.4 773.2M1626.9 769L1669.8 771M1659.2 766.4L1669.8 771L1658.8 774.7M1653.9 769.8L1696 771M1685.5 766.6L1696 771L1685.2 774.8M1474.8 784L1488.8 778M1484.7 778.2L1488.8 778L1485.9 780.9M1503.9 786.9L1511.3 774.5M1508.3 776.9L1511.3 774.5L1510.7 778.4M1526.9 788.5L1541.2 773.3M1536.1 775.7L1541.2 773.3L1539.1 778.5M1545.2 786.9L1576.1 773.7M1567 774.1L1576.1 773.7L1569.6 780M1669 780.9L1712.6 780.1M1701.5 776.1L1712.6 780.1L1701.7 784.5M1699.9 779.6L1734.8 778M1725.9 775L1734.8 778L1726.2 781.8M1576.1 796L1596.7 785.3M1590.5 786L1596.7 785.3L1592.6 790M1601.8 793.9L1624.5 787.2M1618.2 786.7L1624.5 787.2L1619.4 791.1M1625 791.2L1653.9 791.2M1646.6 788.4L1653.9 791.2L1646.6 794M1647.5 790.4L1680.1 792M1672 788.4L1680.1 792L1671.7 794.7M1532.5 805.5L1535.6 796M1533.9 798L1535.6 796L1535.8 798.7M1557.1 807.1L1564.2 793.3M1561.1 796L1564.2 793.3L1563.7 797.4"/></g>
<rect x="1327.4" y="96" width="43.4" height="54.7" fill="#fff" stroke="#000" stroke-width="1"/><text x="1349.1" y="116.2" font-size="19.5" text-anchor="middle">.2</text><path class="as" stroke-width="3.1" d="M1331.1 130.8L1367.1 130.8M1358 127.3L1367.1 130.8L1358 134.3"/>
<rect x="769.9" y="545.3" width="35.6" height="44.8" fill="#fff" stroke="#000" stroke-width="1"/><text x="787.7" y="560.8" font-size="15.5" text-anchor="middle">2.5</text><path class="as" stroke-width="2.9" d="M772.7 574.3L802.7 574.3M795.1 571.4L802.7 574.3L795.1 577.2"/>
<rect x="1695.2" y="545.3" width="35.4" height="43.8" fill="#fff" stroke="#000" stroke-width="1"/><text x="1712.9" y="560.8" font-size="15.5" text-anchor="middle">1</text><path class="as" stroke-width="2.9" d="M1698.1 573.2L1727.7 573.2M1720.2 570.3L1727.7 573.2L1720.2 576.1"/>
<path d="M444.2 357.3v4.5M444.2 96v-0M473.2 357.3v4.5M473.2 96v-0M502.1 357.3v9M502.1 96v-0M531.1 357.3v4.5M531.1 96v-0M560 357.3v4.5M560 96v-0M589 357.3v9M589 96v-0M617.9 357.3v4.5M617.9 96v-0M646.9 357.3v4.5M646.9 96v-0M675.8 357.3v9M675.8 96v-0M704.8 357.3v4.5M704.8 96v-0M733.8 357.3v4.5M733.8 96v-0M762.7 357.3v9M762.7 96v-0M791.7 357.3v4.5M791.7 96v-0M820.6 357.3v4.5M820.6 96v-0M849.6 357.3v9M849.6 96v-0M878.5 357.3v4.5M878.5 96v-0M907.5 357.3v4.5M907.5 96v-0M936.5 357.3v9M936.5 96v-0M965.4 357.3v4.5M965.4 96v-0M994.4 357.3v4.5M994.4 96v-0M1023.3 357.3v9M1023.3 96v-0M1052.3 357.3v4.5M1052.3 96v-0M1081.2 357.3v4.5M1081.2 96v-0M1110.2 357.3v9M1110.2 96v-0M1139.1 357.3v4.5M1139.1 96v-0M1168.1 357.3v4.5M1168.1 96v-0M1197.1 357.3v9M1197.1 96v-0M1226 357.3v4.5M1226 96v-0M1255 357.3v4.5M1255 96v-0M1283.9 357.3v9M1283.9 96v-0M1312.9 357.3v4.5M1312.9 96v-0M1341.8 357.3v4.5M1341.8 96v-0M1370.8 357.3v9M1370.8 96v-0M444.2 357.3h-4.5M1370.8 357.3h4.5M444.2 328.3h-9M1370.8 328.3h9M444.2 299.2h-4.5M1370.8 299.2h4.5M444.2 270.2h-4.5M1370.8 270.2h4.5M444.2 241.2h-9M1370.8 241.2h9M444.2 212.1h-4.5M1370.8 212.1h4.5M444.2 183.1h-4.5M1370.8 183.1h4.5M444.2 154.1h-9M1370.8 154.1h9M444.2 125h-4.5M1370.8 125h4.5M444.2 96h-4.5M1370.8 96h4.5" stroke="#000" stroke-width="1.4" fill="none"/>
<rect x="444.2" y="96" width="926.6" height="261.3" fill="none" stroke="#000" stroke-width="1.6"/>
<text x="502.1" y="403.6" font-size="27" text-anchor="middle">60W</text>
<text x="589" y="403.6" font-size="27" text-anchor="middle">30W</text>
<text x="675.8" y="403.6" font-size="27" text-anchor="middle">0</text>
<text x="762.7" y="403.6" font-size="27" text-anchor="middle">30E</text>
<text x="849.6" y="403.6" font-size="27" text-anchor="middle">60E</text>
<text x="936.5" y="403.6" font-size="27" text-anchor="middle">90E</text>
<text x="1023.3" y="403.6" font-size="27" text-anchor="middle">120E</text>
<text x="1110.2" y="403.6" font-size="27" text-anchor="middle">150E</text>
<text x="1197.1" y="403.6" font-size="27" text-anchor="middle">180</text>
<text x="1283.9" y="403.6" font-size="27" text-anchor="middle">150W</text>
<text x="1370.8" y="403.6" font-size="27" text-anchor="middle">120W</text>
<text x="418.9" y="337.5" font-size="25.8" text-anchor="end">0</text>
<text x="418.9" y="250.4" font-size="25.8" text-anchor="end">30N</text>
<text x="418.9" y="163.3" font-size="25.8" text-anchor="end">60N</text>
<path d="M70.9 808.2v5M70.9 545.3v-0M123.4 808.2v5M123.4 545.3v-0M175.8 808.2v9.5M175.8 545.3v-0M228.3 808.2v5M228.3 545.3v-0M280.8 808.2v5M280.8 545.3v-0M333.3 808.2v9.5M333.3 545.3v-0M385.7 808.2v5M385.7 545.3v-0M438.2 808.2v5M438.2 545.3v-0M490.7 808.2v9.5M490.7 545.3v-0M543.1 808.2v5M543.1 545.3v-0M595.6 808.2v5M595.6 545.3v-0M648.1 808.2v9.5M648.1 545.3v-0M700.6 808.2v5M700.6 545.3v-0M753 808.2v5M753 545.3v-0M805.5 808.2v9.5M805.5 545.3v-0M70.9 808.2h-5M805.5 808.2h5M70.9 781.9h-5M805.5 781.9h5M70.9 755.6h-9.5M805.5 755.6h9.5M70.9 729.3h-5M805.5 729.3h5M70.9 703h-5M805.5 703h5M70.9 676.8h-5M805.5 676.8h5M70.9 650.5h-9.5M805.5 650.5h9.5M70.9 624.2h-5M805.5 624.2h5M70.9 597.9h-5M805.5 597.9h5M70.9 571.6h-5M805.5 571.6h5M70.9 545.3h-9.5M805.5 545.3h9.5" stroke="#000" stroke-width="1.4" fill="none"/>
<rect x="70.9" y="545.3" width="734.6" height="262.9" fill="none" stroke="#000" stroke-width="1.6"/>
<text x="175.8" y="853.4" font-size="26" text-anchor="middle">60E</text>
<text x="333.3" y="853.4" font-size="26" text-anchor="middle">90E</text>
<text x="490.7" y="853.4" font-size="26" text-anchor="middle">120E</text>
<text x="648.1" y="853.4" font-size="26" text-anchor="middle">150E</text>
<text x="805.5" y="853.4" font-size="26" text-anchor="middle">180</text>
<text x="46" y="764.9" font-size="26" text-anchor="end">0</text>
<text x="46" y="659.8" font-size="26" text-anchor="end">20N</text>
<text x="46" y="554.6" font-size="26" text-anchor="end">40N</text>
<path d="M996.2 808.2v5M996.2 545.3v-0M1048.7 808.2v5M1048.7 545.3v-0M1101.1 808.2v9.5M1101.1 545.3v-0M1153.6 808.2v5M1153.6 545.3v-0M1206 808.2v5M1206 545.3v-0M1258.5 808.2v9.5M1258.5 545.3v-0M1310.9 808.2v5M1310.9 545.3v-0M1363.4 808.2v5M1363.4 545.3v-0M1415.9 808.2v9.5M1415.9 545.3v-0M1468.3 808.2v5M1468.3 545.3v-0M1520.8 808.2v5M1520.8 545.3v-0M1573.2 808.2v9.5M1573.2 545.3v-0M1625.7 808.2v5M1625.7 545.3v-0M1678.1 808.2v5M1678.1 545.3v-0M1730.6 808.2v9.5M1730.6 545.3v-0M996.2 808.2h-5M1730.6 808.2h5M996.2 781.9h-5M1730.6 781.9h5M996.2 755.6h-9.5M1730.6 755.6h9.5M996.2 729.3h-5M1730.6 729.3h5M996.2 703h-5M1730.6 703h5M996.2 676.8h-5M1730.6 676.8h5M996.2 650.5h-9.5M1730.6 650.5h9.5M996.2 624.2h-5M1730.6 624.2h5M996.2 597.9h-5M1730.6 597.9h5M996.2 571.6h-5M1730.6 571.6h5M996.2 545.3h-9.5M1730.6 545.3h9.5" stroke="#000" stroke-width="1.4" fill="none"/>
<rect x="996.2" y="545.3" width="734.4" height="262.9" fill="none" stroke="#000" stroke-width="1.6"/>
<text x="1101.1" y="853.4" font-size="26" text-anchor="middle">60E</text>
<text x="1258.5" y="853.4" font-size="26" text-anchor="middle">90E</text>
<text x="1415.9" y="853.4" font-size="26" text-anchor="middle">120E</text>
<text x="1573.2" y="853.4" font-size="26" text-anchor="middle">150E</text>
<text x="1730.6" y="853.4" font-size="26" text-anchor="middle">180</text>
<text x="971.3" y="764.9" font-size="26" text-anchor="end">0</text>
<text x="971.3" y="659.8" font-size="26" text-anchor="end">20N</text>
<text x="971.3" y="554.6" font-size="26" text-anchor="end">40N</text>
<g stroke="#000" stroke-width="1">
<rect x="376.8" y="430" width="26.9" height="23.2" fill="#8560D8"/>
<rect x="403.7" y="430" width="26.9" height="23.2" fill="#6443D6"/>
<rect x="430.7" y="430" width="26.9" height="23.2" fill="#4229CD"/>
<rect x="457.6" y="430" width="26.9" height="23.2" fill="#2013CC"/>
<rect x="484.5" y="430" width="26.9" height="23.2" fill="#0000CD"/>
<rect x="511.5" y="430" width="26.9" height="23.2" fill="#1019D3"/>
<rect x="538.4" y="430" width="26.9" height="23.2" fill="#1F32D9"/>
<rect x="565.3" y="430" width="26.9" height="23.2" fill="#2D47DE"/>
<rect x="592.2" y="430" width="26.9" height="23.2" fill="#3D5FE3"/>
<rect x="619.2" y="430" width="26.9" height="23.2" fill="#4A6FE7"/>
<rect x="646.1" y="430" width="26.9" height="23.2" fill="#567BEA"/>
<rect x="673" y="430" width="26.9" height="23.2" fill="#6186EC"/>
<rect x="700" y="430" width="26.9" height="23.2" fill="#6E92EF"/>
<rect x="726.9" y="430" width="26.9" height="23.2" fill="#7DA3F1"/>
<rect x="753.8" y="430" width="26.9" height="23.2" fill="#8CB9EE"/>
<rect x="780.8" y="430" width="26.9" height="23.2" fill="#99CCEA"/>
<rect x="807.7" y="430" width="26.9" height="23.2" fill="#A5D9E7"/>
<rect x="834.6" y="430" width="26.9" height="23.2" fill="#B0E0E6"/>
<rect x="861.5" y="430" width="26.9" height="23.2" fill="#FFFFFF"/>
<rect x="888.5" y="430" width="26.9" height="23.2" fill="#FFFFFF"/>
<rect x="915.4" y="430" width="26.9" height="23.2" fill="#E8CFA0"/>
<rect x="942.3" y="430" width="26.9" height="23.2" fill="#DEB881"/>
<rect x="969.3" y="430" width="26.9" height="23.2" fill="#F0BE45"/>
<rect x="996.2" y="430" width="26.9" height="23.2" fill="#FFE100"/>
<rect x="1023.1" y="430" width="26.9" height="23.2" fill="#FFC300"/>
<rect x="1050" y="430" width="26.9" height="23.2" fill="#FFA500"/>
<rect x="1077" y="430" width="26.9" height="23.2" fill="#FF8500"/>
<rect x="1103.9" y="430" width="26.9" height="23.2" fill="#FF6E00"/>
<rect x="1130.8" y="430" width="26.9" height="23.2" fill="#FF5800"/>
<rect x="1157.8" y="430" width="26.9" height="23.2" fill="#FA4000"/>
<rect x="1184.7" y="430" width="26.9" height="23.2" fill="#EC3610"/>
<rect x="1211.6" y="430" width="26.9" height="23.2" fill="#DC2E16"/>
<rect x="1238.6" y="430" width="26.9" height="23.2" fill="#CD281C"/>
<rect x="1265.5" y="430" width="26.9" height="23.2" fill="#B22222"/>
<rect x="1292.4" y="430" width="26.9" height="23.2" fill="#C1373A"/>
<rect x="1319.3" y="430" width="26.9" height="23.2" fill="#D25355"/>
<rect x="1346.3" y="430" width="26.9" height="23.2" fill="#E27072"/>
<rect x="1373.2" y="430" width="26.9" height="23.2" fill="#F29C9E"/>
</g>
<text x="403.7" y="477" font-size="24" text-anchor="middle">-36</text>
<text x="457.6" y="477" font-size="24" text-anchor="middle">-32</text>
<text x="511.5" y="477" font-size="24" text-anchor="middle">-28</text>
<text x="565.3" y="477" font-size="24" text-anchor="middle">-24</text>
<text x="619.2" y="477" font-size="24" text-anchor="middle">-20</text>
<text x="673" y="477" font-size="24" text-anchor="middle">-16</text>
<text x="726.9" y="477" font-size="24" text-anchor="middle">-12</text>
<text x="780.8" y="477" font-size="24" text-anchor="middle">-8</text>
<text x="834.6" y="477" font-size="24" text-anchor="middle">-4</text>
<text x="888.5" y="477" font-size="24" text-anchor="middle">0</text>
<text x="942.3" y="477" font-size="24" text-anchor="middle">4</text>
<text x="996.2" y="477" font-size="24" text-anchor="middle">8</text>
<text x="1050" y="477" font-size="24" text-anchor="middle">12</text>
<text x="1103.9" y="477" font-size="24" text-anchor="middle">16</text>
<text x="1157.8" y="477" font-size="24" text-anchor="middle">20</text>
<text x="1211.6" y="477" font-size="24" text-anchor="middle">24</text>
<text x="1265.5" y="477" font-size="24" text-anchor="middle">28</text>
<text x="1319.3" y="477" font-size="24" text-anchor="middle">32</text>
<text x="1373.2" y="477" font-size="24" text-anchor="middle">36</text>
<g stroke="#000" stroke-width="1">
<rect x="3.5" y="878.1" width="21.5" height="23.6" fill="#8560D8"/>
<rect x="25" y="878.1" width="21.5" height="23.6" fill="#6443D6"/>
<rect x="46.5" y="878.1" width="21.5" height="23.6" fill="#4229CD"/>
<rect x="68" y="878.1" width="21.5" height="23.6" fill="#2013CC"/>
<rect x="89.5" y="878.1" width="21.5" height="23.6" fill="#0000CD"/>
<rect x="111" y="878.1" width="21.5" height="23.6" fill="#1019D3"/>
<rect x="132.5" y="878.1" width="21.5" height="23.6" fill="#1F32D9"/>
<rect x="154" y="878.1" width="21.5" height="23.6" fill="#2D47DE"/>
<rect x="175.5" y="878.1" width="21.5" height="23.6" fill="#3D5FE3"/>
<rect x="197" y="878.1" width="21.5" height="23.6" fill="#4A6FE7"/>
<rect x="218.5" y="878.1" width="21.5" height="23.6" fill="#567BEA"/>
<rect x="240" y="878.1" width="21.5" height="23.6" fill="#6186EC"/>
<rect x="261.5" y="878.1" width="21.5" height="23.6" fill="#6E92EF"/>
<rect x="283" y="878.1" width="21.5" height="23.6" fill="#7DA3F1"/>
<rect x="304.5" y="878.1" width="21.5" height="23.6" fill="#8CB9EE"/>
<rect x="326" y="878.1" width="21.5" height="23.6" fill="#99CCEA"/>
<rect x="347.5" y="878.1" width="21.5" height="23.6" fill="#A5D9E7"/>
<rect x="369" y="878.1" width="21.5" height="23.6" fill="#B0E0E6"/>
<rect x="390.5" y="878.1" width="21.5" height="23.6" fill="#FFFFFF"/>
<rect x="412" y="878.1" width="21.5" height="23.6" fill="#FFFFFF"/>
<rect x="433.5" y="878.1" width="21.5" height="23.6" fill="#E8CFA0"/>
<rect x="455" y="878.1" width="21.5" height="23.6" fill="#DEB881"/>
<rect x="476.5" y="878.1" width="21.5" height="23.6" fill="#F0BE45"/>
<rect x="498" y="878.1" width="21.5" height="23.6" fill="#FFE100"/>
<rect x="519.5" y="878.1" width="21.5" height="23.6" fill="#FFC300"/>
<rect x="541" y="878.1" width="21.5" height="23.6" fill="#FFA500"/>
<rect x="562.5" y="878.1" width="21.5" height="23.6" fill="#FF8500"/>
<rect x="584" y="878.1" width="21.5" height="23.6" fill="#FF6E00"/>
<rect x="605.5" y="878.1" width="21.5" height="23.6" fill="#FF5800"/>
<rect x="627" y="878.1" width="21.5" height="23.6" fill="#FA4000"/>
<rect x="648.5" y="878.1" width="21.5" height="23.6" fill="#EC3610"/>
<rect x="670" y="878.1" width="21.5" height="23.6" fill="#DC2E16"/>
<rect x="691.5" y="878.1" width="21.5" height="23.6" fill="#CD281C"/>
<rect x="713" y="878.1" width="21.5" height="23.6" fill="#B22222"/>
<rect x="734.5" y="878.1" width="21.5" height="23.6" fill="#C1373A"/>
<rect x="756" y="878.1" width="21.5" height="23.6" fill="#D25355"/>
<rect x="777.5" y="878.1" width="21.5" height="23.6" fill="#E27072"/>
<rect x="799" y="878.1" width="21.5" height="23.6" fill="#F29C9E"/>
</g>
<text x="25" y="926.3" font-size="24" text-anchor="middle">-36</text>
<text x="68" y="926.3" font-size="24" text-anchor="middle">-32</text>
<text x="111" y="926.3" font-size="24" text-anchor="middle">-28</text>
<text x="154" y="926.3" font-size="24" text-anchor="middle">-24</text>
<text x="197" y="926.3" font-size="24" text-anchor="middle">-20</text>
<text x="240" y="926.3" font-size="24" text-anchor="middle">-16</text>
<text x="283" y="926.3" font-size="24" text-anchor="middle">-12</text>
<text x="326" y="926.3" font-size="24" text-anchor="middle">-8</text>
<text x="369" y="926.3" font-size="24" text-anchor="middle">-4</text>
<text x="412" y="926.3" font-size="24" text-anchor="middle">0</text>
<text x="455" y="926.3" font-size="24" text-anchor="middle">4</text>
<text x="498" y="926.3" font-size="24" text-anchor="middle">8</text>
<text x="541" y="926.3" font-size="24" text-anchor="middle">12</text>
<text x="584" y="926.3" font-size="24" text-anchor="middle">16</text>
<text x="627" y="926.3" font-size="24" text-anchor="middle">20</text>
<text x="670" y="926.3" font-size="24" text-anchor="middle">24</text>
<text x="713" y="926.3" font-size="24" text-anchor="middle">28</text>
<text x="756" y="926.3" font-size="24" text-anchor="middle">32</text>
<text x="799" y="926.3" font-size="24" text-anchor="middle">36</text>
<g stroke="#000" stroke-width="1">
<rect x="929.4" y="878.1" width="21.5" height="23.6" fill="#8560D8"/>
<rect x="950.9" y="878.1" width="21.5" height="23.6" fill="#6443D6"/>
<rect x="972.4" y="878.1" width="21.5" height="23.6" fill="#4229CD"/>
<rect x="993.9" y="878.1" width="21.5" height="23.6" fill="#2013CC"/>
<rect x="1015.4" y="878.1" width="21.5" height="23.6" fill="#0000CD"/>
<rect x="1036.9" y="878.1" width="21.5" height="23.6" fill="#1019D3"/>
<rect x="1058.4" y="878.1" width="21.5" height="23.6" fill="#1F32D9"/>
<rect x="1079.9" y="878.1" width="21.5" height="23.6" fill="#2D47DE"/>
<rect x="1101.4" y="878.1" width="21.5" height="23.6" fill="#3D5FE3"/>
<rect x="1122.9" y="878.1" width="21.5" height="23.6" fill="#4A6FE7"/>
<rect x="1144.4" y="878.1" width="21.5" height="23.6" fill="#567BEA"/>
<rect x="1165.9" y="878.1" width="21.5" height="23.6" fill="#6186EC"/>
<rect x="1187.4" y="878.1" width="21.5" height="23.6" fill="#6E92EF"/>
<rect x="1208.9" y="878.1" width="21.5" height="23.6" fill="#7DA3F1"/>
<rect x="1230.4" y="878.1" width="21.5" height="23.6" fill="#8CB9EE"/>
<rect x="1251.9" y="878.1" width="21.5" height="23.6" fill="#99CCEA"/>
<rect x="1273.4" y="878.1" width="21.5" height="23.6" fill="#A5D9E7"/>
<rect x="1294.9" y="878.1" width="21.5" height="23.6" fill="#B0E0E6"/>
<rect x="1316.4" y="878.1" width="21.5" height="23.6" fill="#FFFFFF"/>
<rect x="1337.9" y="878.1" width="21.5" height="23.6" fill="#FFFFFF"/>
<rect x="1359.4" y="878.1" width="21.5" height="23.6" fill="#E8CFA0"/>
<rect x="1380.9" y="878.1" width="21.5" height="23.6" fill="#DEB881"/>
<rect x="1402.4" y="878.1" width="21.5" height="23.6" fill="#F0BE45"/>
<rect x="1423.9" y="878.1" width="21.5" height="23.6" fill="#FFE100"/>
<rect x="1445.4" y="878.1" width="21.5" height="23.6" fill="#FFC300"/>
<rect x="1466.9" y="878.1" width="21.5" height="23.6" fill="#FFA500"/>
<rect x="1488.4" y="878.1" width="21.5" height="23.6" fill="#FF8500"/>
<rect x="1509.9" y="878.1" width="21.5" height="23.6" fill="#FF6E00"/>
<rect x="1531.4" y="878.1" width="21.5" height="23.6" fill="#FF5800"/>
<rect x="1552.9" y="878.1" width="21.5" height="23.6" fill="#FA4000"/>
<rect x="1574.4" y="878.1" width="21.5" height="23.6" fill="#EC3610"/>
<rect x="1595.9" y="878.1" width="21.5" height="23.6" fill="#DC2E16"/>
<rect x="1617.4" y="878.1" width="21.5" height="23.6" fill="#CD281C"/>
<rect x="1638.9" y="878.1" width="21.5" height="23.6" fill="#B22222"/>
<rect x="1660.4" y="878.1" width="21.5" height="23.6" fill="#C1373A"/>
<rect x="1681.9" y="878.1" width="21.5" height="23.6" fill="#D25355"/>
<rect x="1703.4" y="878.1" width="21.5" height="23.6" fill="#E27072"/>
<rect x="1724.9" y="878.1" width="21.5" height="23.6" fill="#F29C9E"/>
</g>
<text x="950.9" y="926.3" font-size="24" text-anchor="middle">-1.8</text>
<text x="1015.4" y="926.3" font-size="24" text-anchor="middle">-1.5</text>
<text x="1079.9" y="926.3" font-size="24" text-anchor="middle">-1.2</text>
<text x="1144.4" y="926.3" font-size="24" text-anchor="middle">-0.9</text>
<text x="1208.9" y="926.3" font-size="24" text-anchor="middle">-0.6</text>
<text x="1273.4" y="926.3" font-size="24" text-anchor="middle">-0.3</text>
<text x="1337.9" y="926.3" font-size="24" text-anchor="middle">0</text>
<text x="1402.4" y="926.3" font-size="24" text-anchor="middle">0.3</text>
<text x="1466.9" y="926.3" font-size="24" text-anchor="middle">0.6</text>
<text x="1531.4" y="926.3" font-size="24" text-anchor="middle">0.9</text>
<text x="1595.9" y="926.3" font-size="24" text-anchor="middle">1.2</text>
<text x="1660.4" y="926.3" font-size="24" text-anchor="middle">1.5</text>
<text x="1724.9" y="926.3" font-size="24" text-anchor="middle">1.8</text>
<text x="911.5" y="30.5" font-size="42.5" text-anchor="middle">MNA - NACLM</text>
<text x="443" y="81.4" font-size="30">(a) AMJ 200hPa hgt &amp; wave flux</text>
<text x="69.5" y="531.1" font-size="30">(b) AMJ 200hPa uv &amp; hgt</text>
<text x="994.5" y="531.1" font-size="30">(c) AMJ 850hPa uv &amp; 500hPa omega</text>
</svg>
</body></html>
